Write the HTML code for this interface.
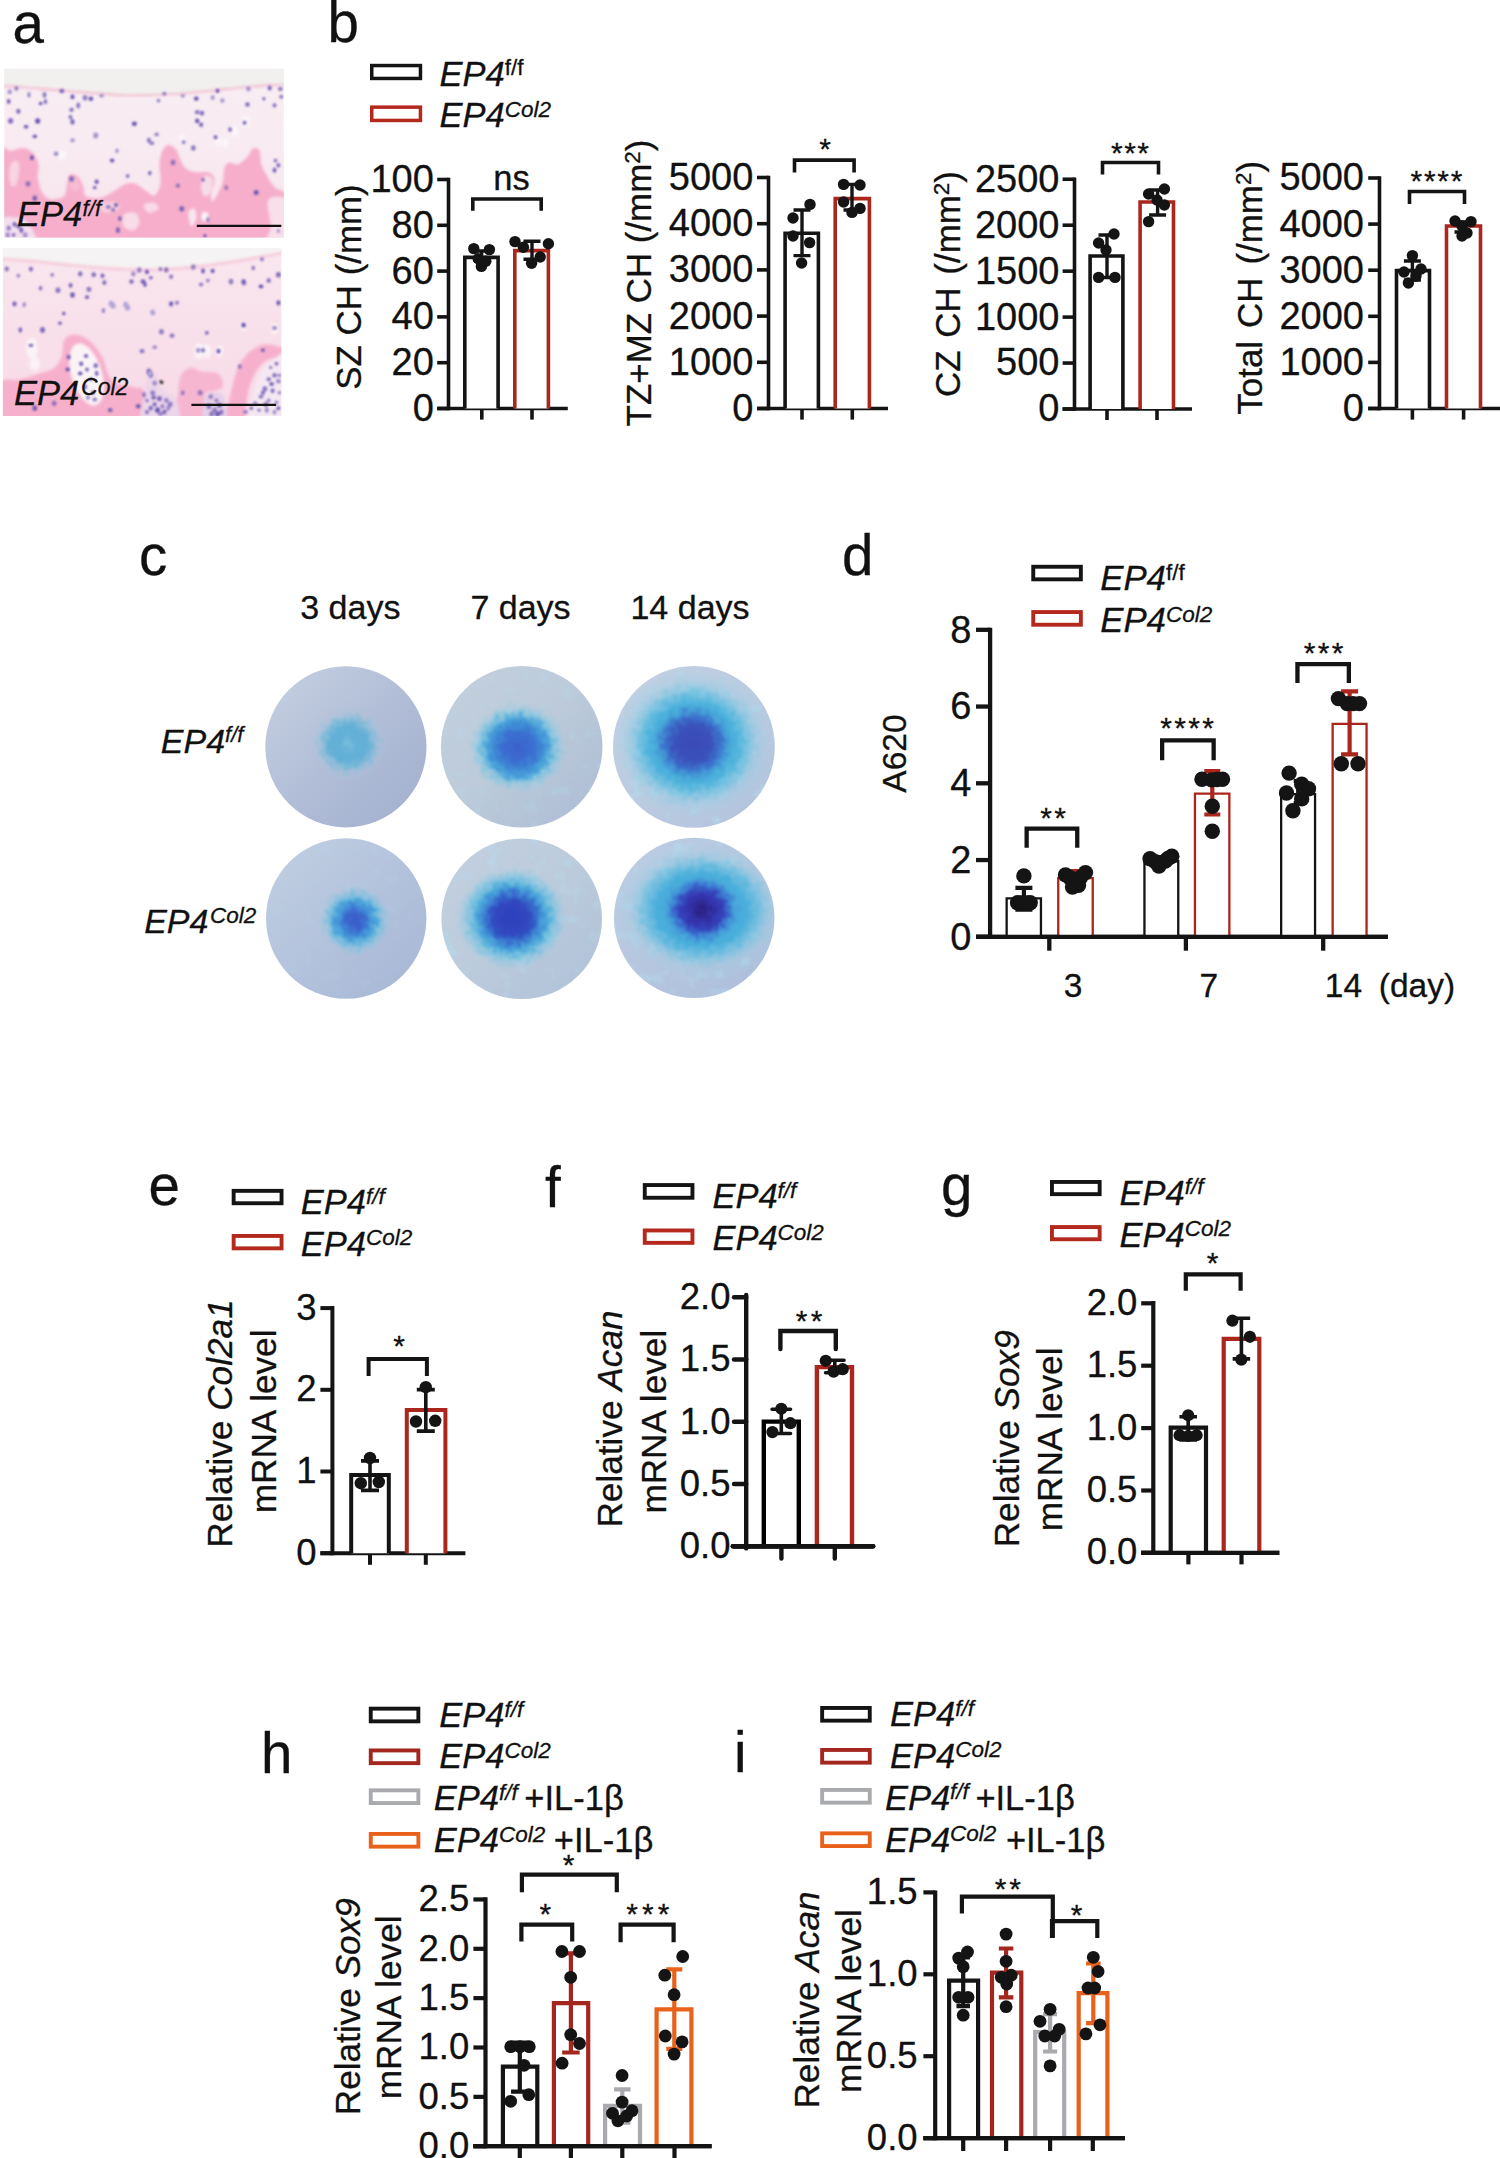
<!DOCTYPE html>
<html lang="en"><head><meta charset="utf-8"><title>Figure</title>
<style>
html,body{margin:0;padding:0;background:#fff}
svg{display:block}
text{font-family:"Liberation Sans",sans-serif;fill:#111;stroke:#111;stroke-width:0.3px;stroke-linejoin:round}
</style></head><body>
<svg width="1500" height="2158" viewBox="0 0 1500 2158">
<defs>
<filter id="hb" x="-5%" y="-5%" width="110%" height="110%"><feGaussianBlur stdDeviation="1.7"/></filter>
<filter id="hb2" x="-5%" y="-5%" width="110%" height="110%"><feGaussianBlur stdDeviation="0.95"/></filter>
<linearGradient id="cart1" x1="0" y1="0" x2="0" y2="1"><stop offset="0" stop-color="#f8eef3"/><stop offset="0.45" stop-color="#f8ebf1"/><stop offset="1" stop-color="#f8e3ec"/></linearGradient>
<linearGradient id="cart2" x1="0" y1="0" x2="0" y2="1"><stop offset="0" stop-color="#f9e7ef"/><stop offset="0.5" stop-color="#f8e0ea"/><stop offset="1" stop-color="#f8dbe7"/></linearGradient>
<clipPath id="clipA1"><rect x="4.3" y="68.7" width="279.5" height="168.8"/></clipPath>
<clipPath id="clipA2"><rect x="2.9" y="248.1" width="278.4" height="167.9"/></clipPath>
<filter id="mott" x="-20%" y="-20%" width="140%" height="140%"><feTurbulence type="fractalNoise" baseFrequency="0.16" numOctaves="3" seed="7" result="n"/><feDisplacementMap in="SourceGraphic" in2="n" scale="11" xChannelSelector="R" yChannelSelector="G"/><feGaussianBlur stdDeviation="0.8"/></filter>
<filter id="speck" x="0" y="0" width="100%" height="100%"><feTurbulence type="fractalNoise" baseFrequency="0.07" numOctaves="3" seed="11"/><feColorMatrix type="matrix" values="0 0 0 0 0.45  0 0 0 0 0.74  0 0 0 0 0.88  3.2 0 0 0 -1.75"/><feGaussianBlur stdDeviation="0.9"/></filter>
<filter id="dedge" x="-5%" y="-5%" width="110%" height="110%"><feGaussianBlur stdDeviation="0.6"/></filter>
<linearGradient id="dbg0" x1="0.1" y1="0.1" x2="0.9" y2="0.9"><stop offset="0" stop-color="#c2cde0"/><stop offset="0.5" stop-color="#b2bed7"/><stop offset="1" stop-color="#a4b1d0"/></linearGradient>
<radialGradient id="dhalo0" cx="0.5" cy="0.5" r="0.5"><stop offset="0" stop-color="#66b2d7" stop-opacity="1"/><stop offset="0.45" stop-color="#62afd6" stop-opacity="1"/><stop offset="0.62" stop-color="#74b9d9" stop-opacity="0.8"/><stop offset="0.82" stop-color="#9fc4dc" stop-opacity="0.3"/><stop offset="1" stop-color="#a9bcd6" stop-opacity="0"/></radialGradient>
<radialGradient id="dcore0" cx="0.5" cy="0.5" r="0.5"><stop offset="0" stop-color="#8ac8e0" stop-opacity="0.7"/><stop offset="1" stop-color="#7dc0dc" stop-opacity="0"/></radialGradient>
<clipPath id="dcl0"><circle cx="345.9" cy="746.8" r="80.6"/></clipPath>
<linearGradient id="dbg1" x1="0.1" y1="0.1" x2="0.9" y2="0.9"><stop offset="0" stop-color="#c3cfdd"/><stop offset="0.5" stop-color="#bccad9"/><stop offset="1" stop-color="#afbed6"/></linearGradient>
<radialGradient id="dhalo1" cx="0.5" cy="0.5" r="0.5"><stop offset="0" stop-color="#4aa8da" stop-opacity="1"/><stop offset="0.6" stop-color="#50b0dc" stop-opacity="0.95"/><stop offset="0.76" stop-color="#72c2e0" stop-opacity="0.7"/><stop offset="1" stop-color="#a6d0e2" stop-opacity="0"/></radialGradient>
<radialGradient id="dcore1" cx="0.5" cy="0.5" r="0.5"><stop offset="0" stop-color="#3b60ca" stop-opacity="1"/><stop offset="0.4" stop-color="#3a6fd0" stop-opacity="1"/><stop offset="0.65" stop-color="#3d87d5" stop-opacity="0.9"/><stop offset="0.82" stop-color="#4298d8" stop-opacity="0.5"/><stop offset="1" stop-color="#4aa8da" stop-opacity="0"/></radialGradient>
<clipPath id="dcl1"><circle cx="521.7" cy="746.8" r="80.8"/></clipPath>
<linearGradient id="dbg2" x1="0.1" y1="0.1" x2="0.9" y2="0.9"><stop offset="0" stop-color="#c3d0e2"/><stop offset="0.5" stop-color="#bccbe0"/><stop offset="1" stop-color="#b3c4dd"/></linearGradient>
<radialGradient id="dhalo2" cx="0.5" cy="0.5" r="0.5"><stop offset="0" stop-color="#48acda" stop-opacity="1"/><stop offset="0.54" stop-color="#4db2dc" stop-opacity="1"/><stop offset="0.66" stop-color="#68c0e0" stop-opacity="0.8"/><stop offset="0.82" stop-color="#94cee4" stop-opacity="0.35"/><stop offset="1" stop-color="#a9d3e6" stop-opacity="0"/></radialGradient>
<radialGradient id="dcore2" cx="0.5" cy="0.5" r="0.5"><stop offset="0" stop-color="#3a4ab6" stop-opacity="1"/><stop offset="0.45" stop-color="#3a52bb" stop-opacity="1"/><stop offset="0.66" stop-color="#3b72cc" stop-opacity="0.95"/><stop offset="0.82" stop-color="#3f8fd4" stop-opacity="0.55"/><stop offset="1" stop-color="#48acda" stop-opacity="0"/></radialGradient>
<clipPath id="dcl2"><circle cx="693.9" cy="746.8" r="80.9"/></clipPath>
<linearGradient id="dbg3" x1="0.1" y1="0.1" x2="0.9" y2="0.9"><stop offset="0" stop-color="#bfcde1"/><stop offset="0.5" stop-color="#b4c3dc"/><stop offset="1" stop-color="#a8b8d6"/></linearGradient>
<radialGradient id="dhalo3" cx="0.5" cy="0.5" r="0.5"><stop offset="0" stop-color="#48a4da" stop-opacity="1"/><stop offset="0.6" stop-color="#55b0dc" stop-opacity="0.95"/><stop offset="0.78" stop-color="#78c0df" stop-opacity="0.6"/><stop offset="1" stop-color="#a0c8e0" stop-opacity="0"/></radialGradient>
<radialGradient id="dcore3" cx="0.5" cy="0.5" r="0.5"><stop offset="0" stop-color="#3a5cc8" stop-opacity="1"/><stop offset="0.35" stop-color="#3b66cc" stop-opacity="1"/><stop offset="0.62" stop-color="#3e84d5" stop-opacity="0.9"/><stop offset="0.82" stop-color="#4296d8" stop-opacity="0.5"/><stop offset="1" stop-color="#48a4da" stop-opacity="0"/></radialGradient>
<clipPath id="dcl3"><circle cx="346.2" cy="918.5" r="80.2"/></clipPath>
<linearGradient id="dbg4" x1="0.1" y1="0.1" x2="0.9" y2="0.9"><stop offset="0" stop-color="#c2cfde"/><stop offset="0.5" stop-color="#bccbdc"/><stop offset="1" stop-color="#b2c2d9"/></linearGradient>
<radialGradient id="dhalo4" cx="0.5" cy="0.5" r="0.5"><stop offset="0" stop-color="#48a8da" stop-opacity="1"/><stop offset="0.62" stop-color="#4db0dc" stop-opacity="0.95"/><stop offset="0.78" stop-color="#70c1e0" stop-opacity="0.7"/><stop offset="1" stop-color="#a6d0e2" stop-opacity="0"/></radialGradient>
<radialGradient id="dcore4" cx="0.5" cy="0.5" r="0.5"><stop offset="0" stop-color="#2f40bc" stop-opacity="1"/><stop offset="0.45" stop-color="#3048c0" stop-opacity="1"/><stop offset="0.66" stop-color="#3872cf" stop-opacity="0.95"/><stop offset="0.82" stop-color="#3f90d5" stop-opacity="0.5"/><stop offset="1" stop-color="#48a8da" stop-opacity="0"/></radialGradient>
<clipPath id="dcl4"><circle cx="521.7" cy="918.8" r="80.3"/></clipPath>
<linearGradient id="dbg5" x1="0.1" y1="0.1" x2="0.9" y2="0.9"><stop offset="0" stop-color="#bdcce2"/><stop offset="0.5" stop-color="#b6c6de"/><stop offset="1" stop-color="#adbfdb"/></linearGradient>
<radialGradient id="dhalo5" cx="0.5" cy="0.5" r="0.5"><stop offset="0" stop-color="#46a8da" stop-opacity="1"/><stop offset="0.5" stop-color="#4aaedb" stop-opacity="1"/><stop offset="0.64" stop-color="#66bee0" stop-opacity="0.8"/><stop offset="0.8" stop-color="#98cfe4" stop-opacity="0.3"/><stop offset="1" stop-color="#a9d3e6" stop-opacity="0"/></radialGradient>
<radialGradient id="dcore5" cx="0.5" cy="0.5" r="0.5"><stop offset="0" stop-color="#2a1f7e" stop-opacity="1"/><stop offset="0.16" stop-color="#2e2892" stop-opacity="1"/><stop offset="0.38" stop-color="#3434ae" stop-opacity="1"/><stop offset="0.55" stop-color="#3645bc" stop-opacity="1"/><stop offset="0.7" stop-color="#3a70d0" stop-opacity="0.9"/><stop offset="0.85" stop-color="#3f90d5" stop-opacity="0.5"/><stop offset="1" stop-color="#46a8da" stop-opacity="0"/></radialGradient>
<clipPath id="dcl5"><circle cx="694.2" cy="917.9" r="80.2"/></clipPath>
</defs>
<rect width="1500" height="2158" fill="#fff"/>
<text x="12.5" y="42.5" font-size="56.5">a</text>
<text x="327.5" y="41.5" font-size="56.5">b</text>
<text x="139" y="574.5" font-size="56.5">c</text>
<text x="842" y="574.5" font-size="56.5">d</text>
<text x="148.5" y="1204.8" font-size="56.5">e</text>
<text x="545" y="1206.5" font-size="56.5">f</text>
<text x="941" y="1204.5" font-size="56.5">g</text>
<text x="261" y="1773" font-size="56.5">h</text>
<text x="734" y="1771.5" font-size="56.5">i</text>
<g clip-path="url(#clipA1)"><rect x="0" y="64" width="290" height="178" fill="url(#cart1)"/><g filter="url(#hb)">
<path d="M0 63.87 L290 63.87 L290 84.75 L270.67 85.13 L241.67 87.45 L212.67 90.55 L183.67 93.25 L154.67 94.8 L125.67 95.19 L96.67 93.25 L67.67 90.93 L38.67 88.61 L19.33 87.07 L0 85.91Z" fill="#f1f0ef"/>
<path d="M0 85.91C3.22 86.1 12.89 86.62 19.33 87.07C25.78 87.52 30.61 87.97 38.67 88.61C46.72 89.26 58 90.16 67.67 90.93C77.33 91.71 87 92.54 96.67 93.25C106.33 93.96 116 94.93 125.67 95.19C135.33 95.44 145 95.12 154.67 94.8C164.33 94.48 174 93.96 183.67 93.25C193.33 92.54 203 91.51 212.67 90.55C222.33 89.58 232 88.36 241.67 87.45C251.33 86.55 262.61 85.58 270.67 85.13C278.72 84.68 286.78 84.81 290 84.75" fill="none" stroke="#f1a9c4" stroke-width="1.6"/>
<path d="M0 155.7C1.93 139.91 7.73 152.16 11.6 150.87C15.47 149.58 19.66 147.64 23.2 147.97C26.74 148.29 30.29 150.06 32.87 152.8C35.44 155.54 37.86 160.53 38.67 164.4C39.47 168.27 37.22 171.49 37.7 176C38.18 180.51 39.47 187.6 41.57 191.47C43.66 195.33 46.56 198.39 50.27 199.2C53.97 200.01 61.06 198.56 63.8 196.3C66.54 194.04 65.73 189.21 66.7 185.67C67.67 182.12 67.83 176.64 69.6 175.03C71.37 173.42 75.08 174.23 77.33 176C79.59 177.77 81.68 182.28 83.13 185.67C84.58 189.05 83.13 194.3 86.03 196.3C88.93 198.3 95.54 198.72 100.53 197.65C105.53 196.59 111.81 192.18 116 189.92C120.19 187.66 122.44 185.15 125.67 184.12C128.89 183.09 131.79 182.51 135.33 183.73C138.88 184.96 143.71 189.53 146.93 191.47C150.16 193.4 152.41 196.62 154.67 195.33C156.92 194.04 159.66 188.89 160.47 183.73C161.27 178.58 159.18 169.88 159.5 164.4C159.82 158.92 160.95 154.09 162.4 150.87C163.85 147.64 165.94 145.32 168.2 145.07C170.46 144.81 173.84 146.74 175.93 149.32C178.03 151.9 179.16 157.38 180.77 160.53C182.38 163.69 183.18 166.33 185.6 168.27C188.02 170.2 191.4 171.42 195.27 172.13C199.13 172.84 205.58 171.23 208.8 172.52C212.02 173.81 214.21 176.39 214.6 179.87C214.99 183.35 211.38 189.86 211.12 193.4C210.86 196.94 211.18 202.74 213.05 201.13C214.92 199.52 220.46 189.21 222.33 183.73C224.2 178.26 223.14 171.81 224.27 168.27C225.39 164.72 226.84 163.11 229.1 162.47C231.36 161.82 234.74 165.37 237.8 164.4C240.86 163.43 244.89 159.41 247.47 156.67C250.04 153.93 251.27 148.93 253.27 147.97C255.26 147 258.1 148.13 259.45 150.87C260.81 153.61 260.1 160.21 261.39 164.4C262.68 168.59 264.93 172.13 267.19 176C269.44 179.87 271.12 183.73 274.92 187.6C278.72 191.47 287.49 189.53 290 199.2C292.51 208.87 338.33 237.87 290 245.6C241.67 253.33 48.33 260.58 0 245.6C-48.33 230.62 -1.93 171.49 0 155.7Z" fill="#f6aecb"/>
<path d="M10.63 164.4C11.83 161.82 14.98 159.89 16.43 160.53C17.88 161.18 19.33 164.4 19.33 168.27C19.33 172.13 17.72 180.83 16.43 183.73C15.14 186.63 12.79 186.96 11.6 185.67C10.41 184.38 9.44 179.54 9.28 176C9.12 172.46 9.44 166.98 10.63 164.4Z" fill="#f8d5e2"/>
<path d="M123.73 214.67C125.67 212.41 132.76 211.44 135.33 212.73C137.91 214.02 139.52 219.5 139.2 222.4C138.88 225.3 135.98 229.49 133.4 230.13C130.82 230.78 125.34 228.84 123.73 226.27C122.12 223.69 121.8 216.92 123.73 214.67Z" fill="#f8dde8"/>
<path d="M188.5 212.73C188.98 209.83 193.01 207.9 194.3 208.87C195.59 209.83 196.72 215.63 196.23 218.53C195.75 221.43 192.69 227.23 191.4 226.27C190.11 225.3 188.02 215.63 188.5 212.73Z" fill="#f9e6ee"/>
<path d="M144.03 205C145 203.39 152.25 202.42 154.67 203.07C157.08 203.71 159.5 207.26 158.53 208.87C157.57 210.48 151.28 213.38 148.87 212.73C146.45 212.09 143.07 206.61 144.03 205Z" fill="#f8dbe6"/>
<path d="M268.73 199.2C271.96 195.33 286.46 195.33 290 203.07C293.54 210.8 293.87 238.51 290 245.6C286.13 252.69 270.02 248.82 266.8 245.6C263.58 242.38 270.34 234 270.67 226.27C270.99 218.53 265.51 203.07 268.73 199.2Z" fill="#f7e0ea"/>
<path d="M0 220.47C2.58 215.79 10.63 216.92 15.47 217.57C20.3 218.21 25.78 219.66 29 224.33C32.22 229.01 39.63 242.06 34.8 245.6C29.97 249.14 5.8 249.79 0 245.6C-5.8 241.41 -2.58 225.14 0 220.47Z" fill="#f3dfee"/>
<path d="M100.53 204.03C102.47 202.26 112.94 201.29 116 202.1C119.06 202.91 120.83 207.09 118.9 208.87C116.97 210.64 107.46 213.54 104.4 212.73C101.34 211.93 98.6 205.81 100.53 204.03Z" fill="#f6cfdf"/>
<path d="M69.6 177.93C70.66 176.81 74.59 177.13 76.37 178.9C78.14 180.67 80.56 186.47 80.23 188.57C79.91 190.66 76.14 191.95 74.43 191.47C72.73 190.98 70.79 187.92 69.99 185.67C69.18 183.41 68.54 179.06 69.6 177.93Z" fill="#f6bdd2"/>
<path d="M204.93 176C206.87 175.03 211.86 176.97 212.67 179.87C213.47 182.77 211.22 190.82 209.77 193.4C208.32 195.98 205.42 196.62 203.97 195.33C202.52 194.04 200.91 188.89 201.07 185.67C201.23 182.44 203 176.97 204.93 176Z" fill="#f8dde8"/>
<ellipse cx="61.87" cy="154.73" rx="4.25" ry="5.03" fill="#fbf6f8"/>
<ellipse cx="234.9" cy="131.53" rx="3.87" ry="5.8" fill="#fbf6f8"/>
<ellipse cx="245.53" cy="121.87" rx="4.25" ry="5.41" fill="#fbf6f8"/>
<ellipse cx="182.7" cy="139.27" rx="3.09" ry="5.41" fill="#fbf6f8"/>
<ellipse cx="218.47" cy="141.2" rx="3.48" ry="5.8" fill="#fbf6f8"/>
<ellipse cx="225.23" cy="143.13" rx="2.71" ry="5.03" fill="#fbf6f8"/>
<ellipse cx="73.47" cy="118" rx="2.71" ry="3.87" fill="#fbf6f8"/>
<ellipse cx="204.93" cy="216.6" rx="3.48" ry="4.64" fill="#fbf6f8"/>
</g>
<g filter="url(#hb2)" fill="#6653b0"><ellipse cx="16.43" cy="88.61" rx="1.91" ry="2.35" opacity="0.71"/><ellipse cx="9.67" cy="91.9" rx="2.24" ry="2.45" opacity="0.58"/><ellipse cx="29" cy="94.8" rx="1.71" ry="2.7" opacity="0.66"/><ellipse cx="44.47" cy="94.8" rx="1.91" ry="2.89" opacity="0.75"/><ellipse cx="61.87" cy="90.93" rx="2.45" ry="2.27" opacity="0.82"/><ellipse cx="8.7" cy="101.57" rx="1.84" ry="2.46" opacity="0.92"/><ellipse cx="18.37" cy="111.23" rx="2.17" ry="2.59" opacity="0.84"/><ellipse cx="45.43" cy="101.57" rx="1.76" ry="2.61" opacity="0.8"/><ellipse cx="40.6" cy="103.5" rx="1.97" ry="1.74" opacity="0.92"/><ellipse cx="72.5" cy="96.73" rx="2.13" ry="2.56" opacity="0.93"/><ellipse cx="85.07" cy="97.7" rx="2.34" ry="2.81" opacity="0.72"/><ellipse cx="90.87" cy="98.67" rx="2.42" ry="2.23" opacity="0.95"/><ellipse cx="101.5" cy="95.77" rx="2.49" ry="1.82" opacity="0.61"/><ellipse cx="78.3" cy="105.43" rx="1.9" ry="2.86" opacity="0.74"/><ellipse cx="71.53" cy="109.88" rx="2.26" ry="2.06" opacity="0.77"/><ellipse cx="70.57" cy="117.03" rx="2.05" ry="2.12" opacity="0.8"/><ellipse cx="72.5" cy="121.87" rx="2.23" ry="2.79" opacity="0.84"/><ellipse cx="37.7" cy="120.9" rx="2.54" ry="2.73" opacity="0.98"/><ellipse cx="26.1" cy="126.7" rx="2.3" ry="1.9" opacity="0.92"/><ellipse cx="10.63" cy="120.9" rx="2.57" ry="2.79" opacity="0.79"/><ellipse cx="34.8" cy="136.37" rx="2.34" ry="1.95" opacity="0.91"/><ellipse cx="72.5" cy="140.23" rx="2.22" ry="2.04" opacity="0.58"/><ellipse cx="95.7" cy="135.4" rx="2.47" ry="2.89" opacity="0.59"/><ellipse cx="56.07" cy="153.77" rx="2.42" ry="2.19" opacity="0.61"/><ellipse cx="31.9" cy="157.63" rx="1.96" ry="2.62" opacity="0.93"/><ellipse cx="116.97" cy="150.87" rx="1.74" ry="2.44" opacity="0.57"/><ellipse cx="112.13" cy="160.53" rx="2.35" ry="2.1" opacity="0.93"/><ellipse cx="134.37" cy="123.8" rx="2.58" ry="2.31" opacity="0.98"/><ellipse cx="164.33" cy="93.83" rx="1.98" ry="1.79" opacity="0.81"/><ellipse cx="158.53" cy="100.6" rx="1.73" ry="1.94" opacity="0.73"/><ellipse cx="182.7" cy="95.77" rx="2.25" ry="1.89" opacity="0.57"/><ellipse cx="196.23" cy="98.67" rx="2.48" ry="2.08" opacity="0.96"/><ellipse cx="197.2" cy="112.2" rx="2.51" ry="2.15" opacity="0.75"/><ellipse cx="202.03" cy="113.17" rx="2.17" ry="2.47" opacity="0.81"/><ellipse cx="197.2" cy="120.9" rx="2.2" ry="2.44" opacity="0.95"/><ellipse cx="201.07" cy="124.77" rx="2.16" ry="2.22" opacity="0.86"/><ellipse cx="217.5" cy="90.93" rx="1.91" ry="2.06" opacity="0.97"/><ellipse cx="222.33" cy="100.6" rx="2.17" ry="2.36" opacity="0.55"/><ellipse cx="212.67" cy="97.7" rx="2.07" ry="2.4" opacity="0.56"/><ellipse cx="248.43" cy="89" rx="2.25" ry="2.46" opacity="0.58"/><ellipse cx="247.47" cy="104.47" rx="2.26" ry="2.26" opacity="0.84"/><ellipse cx="269.7" cy="88.03" rx="2.02" ry="2.55" opacity="0.87"/><ellipse cx="263.9" cy="98.67" rx="1.72" ry="1.77" opacity="0.84"/><ellipse cx="280.33" cy="89" rx="2.57" ry="2" opacity="0.75"/><ellipse cx="281.3" cy="96.73" rx="2.23" ry="2.08" opacity="0.71"/><ellipse cx="274.53" cy="105.43" rx="1.98" ry="2.14" opacity="0.81"/><ellipse cx="244.57" cy="122.83" rx="1.97" ry="2.15" opacity="0.88"/><ellipse cx="230.07" cy="129.6" rx="1.72" ry="2.38" opacity="0.87"/><ellipse cx="215.57" cy="137.33" rx="1.98" ry="1.97" opacity="0.9"/><ellipse cx="183.67" cy="142.17" rx="1.91" ry="1.92" opacity="0.74"/><ellipse cx="156.6" cy="134.43" rx="2.33" ry="1.82" opacity="0.69"/><ellipse cx="148.87" cy="140.23" rx="2" ry="2.7" opacity="0.74"/><ellipse cx="151.77" cy="143.13" rx="2.47" ry="1.9" opacity="0.69"/><ellipse cx="193.33" cy="147.97" rx="2.29" ry="2.76" opacity="0.74"/><ellipse cx="275.5" cy="160.53" rx="1.9" ry="1.85" opacity="0.78"/><ellipse cx="274.53" cy="170.2" rx="1.87" ry="2.67" opacity="0.91"/><ellipse cx="278.4" cy="165.37" rx="1.87" ry="2.03" opacity="0.9"/><ellipse cx="173.03" cy="162.47" rx="2.28" ry="2.67" opacity="0.7"/><ellipse cx="149.83" cy="173.1" rx="1.82" ry="2.05" opacity="0.89"/><ellipse cx="127.6" cy="176" rx="1.94" ry="2.12" opacity="0.73"/><ellipse cx="96.67" cy="181.8" rx="2.08" ry="2.19" opacity="0.95"/><ellipse cx="94.73" cy="187.6" rx="1.84" ry="1.71" opacity="0.96"/><ellipse cx="71.53" cy="178.9" rx="2.49" ry="2.88" opacity="0.74"/><ellipse cx="28.03" cy="183.73" rx="2.56" ry="2.81" opacity="0.65"/><ellipse cx="34.8" cy="198.23" rx="2.37" ry="2.7" opacity="0.84"/><ellipse cx="177.87" cy="185.67" rx="2.17" ry="2.05" opacity="0.7"/><ellipse cx="203" cy="179.87" rx="1.9" ry="1.78" opacity="0.8"/><ellipse cx="226.2" cy="187.6" rx="1.96" ry="2.67" opacity="0.57"/><ellipse cx="256.17" cy="192.43" rx="2.51" ry="2.53" opacity="0.95"/><ellipse cx="181.73" cy="208.87" rx="2.51" ry="2.78" opacity="0.8"/><ellipse cx="207.83" cy="219.5" rx="1.71" ry="2.59" opacity="0.62"/><ellipse cx="119.87" cy="218.53" rx="1.97" ry="2.5" opacity="0.78"/><ellipse cx="117.93" cy="230.13" rx="2.07" ry="2.83" opacity="0.81"/><ellipse cx="116" cy="205" rx="2.01" ry="2" opacity="0.92"/><ellipse cx="8.7" cy="228.2" rx="2.13" ry="2.64" opacity="0.7"/><ellipse cx="14.5" cy="224.33" rx="1.88" ry="2.34" opacity="0.9"/><ellipse cx="21.27" cy="230.13" rx="1.85" ry="2.65" opacity="0.95"/><ellipse cx="25.13" cy="234.97" rx="2.43" ry="2.69" opacity="0.55"/><ellipse cx="7.73" cy="234.97" rx="2.27" ry="2.74" opacity="0.57"/><ellipse cx="13.53" cy="234.97" rx="1.94" ry="2.02" opacity="0.78"/><ellipse cx="18.37" cy="226.27" rx="2.08" ry="2.27" opacity="0.88"/><ellipse cx="278.4" cy="231.1" rx="1.7" ry="1.77" opacity="0.6"/><ellipse cx="204.93" cy="235.93" rx="1.81" ry="1.78" opacity="0.97"/><ellipse cx="108.27" cy="206.93" rx="2.47" ry="1.8" opacity="0.77"/><ellipse cx="113.1" cy="209.83" rx="1.98" ry="2.08" opacity="0.7"/></g>
</g>
<line x1="196.8" y1="225.9" x2="281.3" y2="225.9" stroke="#111" stroke-width="2.2"/>
<text x="16.9" y="225.9" font-size="34.5" font-style="italic">EP4<tspan dy="-10.3" dx="0.5" font-size="22.3">f/f</tspan></text>
<g clip-path="url(#clipA2)"><rect x="0" y="244" width="290" height="178" fill="url(#cart2)"/><g filter="url(#hb)">
<path d="M0 243.87 L290 243.87 L290 251.6 L270.67 255.08 L241.67 260.3 L212.67 264.75 L183.67 268.03 L154.67 269.58 L125.67 269.39 L96.67 267.45 L67.67 264.75 L38.67 261.65 L19.33 260.11 L0 258.95Z" fill="#f5f3f3"/>
<path d="M0 258.95C3.22 259.14 12.89 259.66 19.33 260.11C25.78 260.56 30.61 260.88 38.67 261.65C46.72 262.43 58 263.78 67.67 264.75C77.33 265.71 87 266.68 96.67 267.45C106.33 268.23 116 269.03 125.67 269.39C135.33 269.74 145 269.81 154.67 269.58C164.33 269.35 174 268.84 183.67 268.03C193.33 267.23 203 266.04 212.67 264.75C222.33 263.46 232 261.91 241.67 260.3C251.33 258.69 262.61 256.53 270.67 255.08C278.72 253.63 286.78 252.18 290 251.6" fill="none" stroke="#f6c3d6" stroke-width="2.4"/>
<path d="M0 384.03C3.22 376.36 12.89 381.29 19.33 379.59C25.78 377.88 32.87 375.72 38.67 373.79C44.47 371.85 50.27 370.95 54.13 367.99C58 365.02 60.26 360.51 61.87 356C63.48 351.49 62.19 344.46 63.8 340.92C65.41 337.38 68.31 335.44 71.53 334.73C74.76 334.02 79.43 334.99 83.13 336.67C86.84 338.34 90.48 341.18 93.77 344.79C97.05 348.4 100.37 353.23 102.85 358.32C105.33 363.41 106.4 371.14 108.65 375.33C110.91 379.52 111.94 381.46 116.39 383.45C120.83 385.45 130.73 385.93 135.33 387.32C139.94 388.71 142.1 385.39 144.03 391.77C145.97 398.15 170.94 419.96 146.93 425.6C122.93 431.24 24.49 432.53 0 425.6C-24.49 418.67 -3.22 391.7 0 384.03Z" fill="#f7b0cc"/>
<ellipse cx="86.61" cy="374.37" rx="15.08" ry="31.9" transform="rotate(-17 86.61 374.37)" fill="#fbf4f7"/>
<path d="M176.9 425.6C172.94 419.48 177.45 397.5 178.25 388.87C179.06 380.23 179.54 377.33 181.73 373.79C183.92 370.24 188.18 367.99 191.4 367.6C194.62 367.21 196.56 370.44 201.07 371.47C205.58 372.5 214.86 371.21 218.47 373.79C222.08 376.36 223.69 384.03 222.72 386.93C221.75 389.83 215.63 389.83 212.67 391.19C209.7 392.54 206.71 389.32 204.93 395.05C203.16 400.79 206.71 420.51 202.03 425.6C197.36 430.69 180.86 431.72 176.9 425.6Z" fill="#f7b6d0"/>
<path d="M225.23 425.6C223.56 419.32 229.58 398.15 232 387.9C234.42 377.65 236.51 370.34 239.73 364.12C242.96 357.9 247.14 353.87 251.33 350.59C255.52 347.3 260.19 345.04 264.87 344.4C269.54 343.76 275.18 345.59 279.37 346.72C283.56 347.85 288.23 349.62 290 351.17C291.77 352.71 293.54 354.61 290 356C286.46 357.39 274.37 356.9 268.73 359.48C263.09 362.06 259.55 366.18 256.17 371.47C252.78 376.75 250.79 382.16 248.43 391.19C246.08 400.21 245.92 419.86 242.05 425.6C238.19 431.34 226.91 431.88 225.23 425.6Z" fill="#f7b0cc"/>
<path d="M249.4 425.6C243.28 420.44 251.49 403.37 253.27 394.67C255.04 385.97 257.13 378.88 260.03 373.4C262.93 367.92 265.67 364.7 270.67 361.8C275.66 358.9 286.78 345.37 290 356C293.22 366.63 296.77 414 290 425.6C283.23 437.2 255.52 430.76 249.4 425.6Z" fill="#f6e8f2"/>
<path d="M143.07 425.6C137.49 420.44 143.07 403.37 144.03 394.67C145 385.97 147.09 377.27 148.87 373.4C150.64 369.53 152.73 369.21 154.67 371.47C156.6 373.72 157.89 383.07 160.47 386.93C163.04 390.8 167.39 392.41 170.13 394.67C172.87 396.92 175.68 395.31 176.9 400.47C178.12 405.62 183.12 421.41 177.48 425.6C171.84 429.79 148.64 430.76 143.07 425.6Z" fill="#ecd6ea"/>
<path d="M203 425.6C199.68 421.09 203.71 404.01 205.32 398.53C206.93 393.06 209.83 393.38 212.67 392.73C215.5 392.09 220.08 392.41 222.33 394.67C224.59 396.92 225.72 401.11 226.2 406.27C226.68 411.42 229.1 422.38 225.23 425.6C221.37 428.82 206.32 430.11 203 425.6Z" fill="#e6cfe8"/>
<ellipse cx="31.9" cy="348.27" rx="5.8" ry="10.63" fill="#fbf3f7"/>
<ellipse cx="34.8" cy="363.73" rx="5.03" ry="6.96" fill="#fbf3f7"/>
<ellipse cx="199.13" cy="351.17" rx="5.41" ry="7.73" fill="#fbf3f7"/>
<ellipse cx="206.87" cy="351.17" rx="4.25" ry="6.96" fill="#fbf3f7"/>
<ellipse cx="219.43" cy="351.17" rx="3.87" ry="5.8" fill="#fbf3f7"/>
<ellipse cx="274.53" cy="328.93" rx="3.48" ry="5.8" fill="#fbf3f7"/>
<ellipse cx="243.6" cy="326.03" rx="3.09" ry="5.03" fill="#fbf3f7"/>
</g>
<g filter="url(#hb2)" fill="#6653b0"><ellipse cx="6.77" cy="269" rx="2.28" ry="2.4" opacity="0.74"/><ellipse cx="18.37" cy="275.77" rx="1.87" ry="2.09" opacity="0.65"/><ellipse cx="30.93" cy="269" rx="2.2" ry="2.56" opacity="0.75"/><ellipse cx="52.2" cy="274.8" rx="1.77" ry="1.91" opacity="0.75"/><ellipse cx="80.23" cy="273.83" rx="2.24" ry="2.64" opacity="0.75"/><ellipse cx="93.77" cy="274.8" rx="2.42" ry="2.45" opacity="0.77"/><ellipse cx="102.47" cy="275.77" rx="2.04" ry="2.3" opacity="0.88"/><ellipse cx="104.4" cy="282.53" rx="2.08" ry="2.53" opacity="0.78"/><ellipse cx="70.57" cy="285.43" rx="1.92" ry="2.34" opacity="0.88"/><ellipse cx="40.6" cy="288.33" rx="1.76" ry="2.21" opacity="0.77"/><ellipse cx="58" cy="290.27" rx="2.49" ry="2.82" opacity="0.75"/><ellipse cx="88.93" cy="289.3" rx="2.51" ry="2.65" opacity="0.7"/><ellipse cx="87" cy="297.03" rx="2.12" ry="1.85" opacity="0.93"/><ellipse cx="72.5" cy="295.1" rx="2.3" ry="2.76" opacity="0.92"/><ellipse cx="14.5" cy="303.8" rx="2.3" ry="2.58" opacity="0.83"/><ellipse cx="24.17" cy="304.77" rx="1.79" ry="2.41" opacity="0.6"/><ellipse cx="103.43" cy="310.57" rx="1.83" ry="2.63" opacity="0.62"/><ellipse cx="63.8" cy="313.47" rx="1.78" ry="1.82" opacity="0.95"/><ellipse cx="59.93" cy="323.13" rx="1.86" ry="1.73" opacity="0.94"/><ellipse cx="20.3" cy="329.9" rx="1.81" ry="2.71" opacity="0.87"/><ellipse cx="42.53" cy="329.9" rx="2.45" ry="2.84" opacity="0.83"/><ellipse cx="30.93" cy="345.37" rx="2.42" ry="1.74" opacity="0.91"/><ellipse cx="133.4" cy="273.83" rx="2.16" ry="2.56" opacity="0.64"/><ellipse cx="139.2" cy="269.97" rx="2.37" ry="2.82" opacity="0.62"/><ellipse cx="146.93" cy="271.9" rx="1.99" ry="2.38" opacity="0.93"/><ellipse cx="160.47" cy="269" rx="1.92" ry="1.92" opacity="0.7"/><ellipse cx="166.27" cy="269.97" rx="2.25" ry="2.6" opacity="0.76"/><ellipse cx="171.1" cy="276.73" rx="2.03" ry="2.18" opacity="0.74"/><ellipse cx="150.8" cy="277.7" rx="2.08" ry="1.8" opacity="0.8"/><ellipse cx="143.07" cy="281.57" rx="2.58" ry="2.2" opacity="0.9"/><ellipse cx="145" cy="284.47" rx="1.84" ry="2.53" opacity="0.9"/><ellipse cx="131.47" cy="281.57" rx="2.31" ry="2.32" opacity="0.79"/><ellipse cx="193.33" cy="267.07" rx="2.28" ry="2.78" opacity="0.66"/><ellipse cx="203" cy="270.93" rx="1.79" ry="2.6" opacity="0.97"/><ellipse cx="212.67" cy="270.93" rx="2.17" ry="2.23" opacity="0.89"/><ellipse cx="207.83" cy="280.6" rx="1.87" ry="2.02" opacity="0.68"/><ellipse cx="201.07" cy="284.47" rx="2.23" ry="2.08" opacity="0.69"/><ellipse cx="231.03" cy="281.57" rx="2.32" ry="2.84" opacity="0.72"/><ellipse cx="243.6" cy="281.57" rx="2.33" ry="2.2" opacity="0.94"/><ellipse cx="243.99" cy="283.5" rx="2.23" ry="2.02" opacity="0.69"/><ellipse cx="253.27" cy="268.03" rx="1.72" ry="2.28" opacity="0.75"/><ellipse cx="261.97" cy="259.33" rx="1.86" ry="2.13" opacity="0.73"/><ellipse cx="261" cy="286.4" rx="2.4" ry="1.87" opacity="1"/><ellipse cx="268.73" cy="280.6" rx="2.13" ry="2.42" opacity="0.79"/><ellipse cx="278.4" cy="274.8" rx="2.45" ry="2.69" opacity="0.82"/><ellipse cx="278.4" cy="302.83" rx="2.13" ry="2.56" opacity="0.94"/><ellipse cx="171.1" cy="303.8" rx="2.06" ry="2.58" opacity="0.98"/><ellipse cx="176.9" cy="302.83" rx="2.12" ry="1.98" opacity="0.69"/><ellipse cx="243.6" cy="325.07" rx="2.35" ry="2.51" opacity="0.98"/><ellipse cx="274.53" cy="327.97" rx="2.47" ry="1.99" opacity="0.68"/><ellipse cx="206.87" cy="332.8" rx="1.93" ry="1.92" opacity="0.88"/><ellipse cx="161.43" cy="331.83" rx="2.47" ry="2.78" opacity="0.7"/><ellipse cx="172.07" cy="335.7" rx="2.48" ry="2.08" opacity="0.77"/><ellipse cx="154.67" cy="347.3" rx="2.36" ry="1.8" opacity="0.64"/><ellipse cx="142.1" cy="351.17" rx="2.45" ry="2.05" opacity="0.74"/><ellipse cx="198.17" cy="350.2" rx="2.22" ry="2.51" opacity="0.6"/><ellipse cx="203" cy="350.2" rx="2" ry="2.22" opacity="0.79"/><ellipse cx="218.47" cy="351.17" rx="1.89" ry="2.4" opacity="0.98"/><ellipse cx="239.73" cy="366.63" rx="2.05" ry="2.35" opacity="0.65"/><ellipse cx="182.7" cy="392.73" rx="1.95" ry="2.5" opacity="0.65"/><ellipse cx="200.1" cy="392.73" rx="2.5" ry="2.79" opacity="0.64"/><ellipse cx="138.23" cy="406.27" rx="2.55" ry="2.15" opacity="0.91"/><ellipse cx="110.2" cy="410.13" rx="2.38" ry="2.05" opacity="0.87"/><ellipse cx="54.13" cy="403.37" rx="2.29" ry="2.67" opacity="0.71"/><ellipse cx="34.8" cy="408.2" rx="2.38" ry="2.85" opacity="0.87"/><ellipse cx="262.93" cy="350.2" rx="2.18" ry="1.84" opacity="0.8"/><ellipse cx="68.63" cy="356.97" rx="2.02" ry="2.56" opacity="0.87"/><ellipse cx="86.03" cy="356" rx="2.21" ry="1.92" opacity="0.86"/><ellipse cx="67.67" cy="369.53" rx="2.27" ry="1.91" opacity="0.96"/><ellipse cx="80.23" cy="373.4" rx="2.29" ry="1.85" opacity="0.97"/><ellipse cx="87" cy="369.53" rx="1.83" ry="2.1" opacity="0.89"/><ellipse cx="95.7" cy="365.67" rx="2.24" ry="2.37" opacity="0.86"/><ellipse cx="90.87" cy="379.2" rx="2.11" ry="2.07" opacity="0.67"/><ellipse cx="96.67" cy="373.4" rx="1.76" ry="2.56" opacity="0.9"/><ellipse cx="85.07" cy="386.93" rx="2.19" ry="2.59" opacity="0.74"/><ellipse cx="92.8" cy="392.73" rx="1.94" ry="2.16" opacity="0.95"/><ellipse cx="87.97" cy="397.57" rx="1.74" ry="2.31" opacity="0.7"/><ellipse cx="94.73" cy="399.5" rx="2.39" ry="2.12" opacity="0.73"/><ellipse cx="81.2" cy="363.73" rx="2.06" ry="2.35" opacity="0.91"/><ellipse cx="144.03" cy="394.67" rx="2.02" ry="2.72" opacity="0.64"/><ellipse cx="146.93" cy="400.47" rx="1.94" ry="1.82" opacity="0.65"/><ellipse cx="152.73" cy="392.73" rx="2.4" ry="2.57" opacity="0.67"/><ellipse cx="154.67" cy="404.33" rx="1.87" ry="2.2" opacity="0.9"/><ellipse cx="159.5" cy="398.53" rx="2.43" ry="2.6" opacity="0.84"/><ellipse cx="162.4" cy="406.27" rx="1.83" ry="2.18" opacity="0.68"/><ellipse cx="166.27" cy="400.47" rx="2.17" ry="2.38" opacity="0.68"/><ellipse cx="168.2" cy="408.2" rx="1.93" ry="2.64" opacity="0.61"/><ellipse cx="157.57" cy="410.13" rx="2.42" ry="2.77" opacity="0.98"/><ellipse cx="150.8" cy="408.2" rx="2.04" ry="2.36" opacity="0.83"/><ellipse cx="148.87" cy="371.47" rx="2.27" ry="2.87" opacity="0.87"/><ellipse cx="150.8" cy="375.33" rx="1.97" ry="2.73" opacity="0.79"/><ellipse cx="154.67" cy="383.07" rx="2.24" ry="2.57" opacity="0.6"/><ellipse cx="164.33" cy="412.07" rx="2.39" ry="2.49" opacity="0.8"/><ellipse cx="146.93" cy="412.07" rx="2.17" ry="2.25" opacity="0.68"/><ellipse cx="160.47" cy="414" rx="2.18" ry="1.74" opacity="0.8"/><ellipse cx="153.7" cy="397.57" rx="2.28" ry="2.23" opacity="0.83"/><ellipse cx="170.13" cy="404.33" rx="2.56" ry="2.77" opacity="0.65"/><ellipse cx="210.73" cy="396.6" rx="2.41" ry="2.45" opacity="0.62"/><ellipse cx="216.53" cy="400.47" rx="2.02" ry="1.98" opacity="0.63"/><ellipse cx="208.8" cy="406.27" rx="2.18" ry="2.82" opacity="0.73"/><ellipse cx="214.6" cy="410.13" rx="2.48" ry="2.53" opacity="0.65"/><ellipse cx="219.43" cy="405.3" rx="2.47" ry="2.42" opacity="0.97"/><ellipse cx="211.7" cy="414" rx="2.34" ry="2.59" opacity="0.74"/><ellipse cx="217.5" cy="414" rx="2.43" ry="2.82" opacity="0.94"/><ellipse cx="221.37" cy="412.07" rx="2.09" ry="2.61" opacity="0.79"/><ellipse cx="270.67" cy="367.6" rx="1.8" ry="1.75" opacity="0.63"/><ellipse cx="276.47" cy="363.73" rx="1.88" ry="1.89" opacity="0.8"/><ellipse cx="274.53" cy="375.33" rx="2.33" ry="2.34" opacity="0.77"/><ellipse cx="268.73" cy="379.2" rx="2.28" ry="2.07" opacity="0.79"/><ellipse cx="278.4" cy="381.13" rx="2.38" ry="2.18" opacity="0.67"/><ellipse cx="264.87" cy="388.87" rx="2.51" ry="2.56" opacity="0.75"/><ellipse cx="272.6" cy="390.8" rx="2.03" ry="2.34" opacity="0.84"/><ellipse cx="279.37" cy="392.73" rx="1.9" ry="1.7" opacity="0.68"/><ellipse cx="261" cy="396.6" rx="2.4" ry="1.87" opacity="0.78"/><ellipse cx="268.73" cy="400.47" rx="1.88" ry="1.95" opacity="0.67"/><ellipse cx="276.47" cy="402.4" rx="2.06" ry="1.9" opacity="0.61"/><ellipse cx="251.33" cy="408.2" rx="1.8" ry="1.9" opacity="0.8"/><ellipse cx="259.07" cy="410.13" rx="1.75" ry="1.73" opacity="0.78"/><ellipse cx="266.8" cy="410.13" rx="2.07" ry="2.54" opacity="0.62"/><ellipse cx="274.53" cy="412.07" rx="2.06" ry="2.18" opacity="0.61"/><ellipse cx="245.53" cy="412.07" rx="2.57" ry="1.96" opacity="0.64"/><ellipse cx="262.93" cy="392.73" rx="2.13" ry="1.9" opacity="0.85"/><ellipse cx="279.37" cy="375.33" rx="2.01" ry="1.85" opacity="0.62"/><ellipse cx="271.63" cy="384.03" rx="2.35" ry="2.03" opacity="0.92"/><ellipse cx="265.83" cy="404.33" rx="2.12" ry="2.82" opacity="0.72"/><ellipse cx="278.4" cy="408.2" rx="1.92" ry="2.02" opacity="0.93"/><ellipse cx="255.2" cy="403.37" rx="2.27" ry="2.11" opacity="0.64"/></g><g filter="url(#hb2)" fill="#b3a6d6"><ellipse cx="113.1" cy="305.73" rx="2.6" ry="3"/><ellipse cx="127.6" cy="307.67" rx="2.6" ry="3"/><ellipse cx="152.73" cy="312.5" rx="2.6" ry="3"/><ellipse cx="111.17" cy="303.8" rx="2.6" ry="3"/><ellipse cx="125.67" cy="304.77" rx="2.6" ry="3"/><ellipse cx="149.83" cy="373.4" rx="2.6" ry="3"/><ellipse cx="161.43" cy="382.1" rx="2.2" ry="1.6" fill="#222" transform="rotate(35 161.43 382.1)"/></g>
</g>
<line x1="191.4" y1="404.9" x2="276.1" y2="404.9" stroke="#111" stroke-width="2.2"/>
<text x="14" y="405.3" font-size="34.5" font-style="italic">EP4<tspan dy="-10.6" dx="1.8" font-size="23">Col2</tspan></text>
<rect x="371.75" y="65.55" width="48.7" height="12.9" fill="none" stroke="#141414" stroke-width="3.5"/>
<rect x="371.75" y="107.15" width="48.7" height="13.3" fill="none" stroke="#b5281e" stroke-width="3.5"/>
<text x="439.5" y="85.6" font-size="34.5" font-style="italic">EP4<tspan dy="-10.5" dx="0" font-size="22.5" font-style="normal">f/f</tspan></text>
<text x="439.5" y="127" font-size="34.5" font-style="italic">EP4<tspan dy="-10.5" dx="0" font-size="22.5">Col2</tspan></text>
<line x1="448.5" y1="177.7" x2="448.5" y2="410.3" stroke="#141414" stroke-width="3.6"/>
<line x1="437.2" y1="408.5" x2="448.5" y2="408.5" stroke="#141414" stroke-width="3.6"/>
<text x="433.8" y="420.9" font-size="38" text-anchor="end">0</text>
<line x1="437.2" y1="362.7" x2="448.5" y2="362.7" stroke="#141414" stroke-width="3.6"/>
<text x="433.8" y="375.1" font-size="38" text-anchor="end">20</text>
<line x1="437.2" y1="316.9" x2="448.5" y2="316.9" stroke="#141414" stroke-width="3.6"/>
<text x="433.8" y="329.3" font-size="38" text-anchor="end">40</text>
<line x1="437.2" y1="271.1" x2="448.5" y2="271.1" stroke="#141414" stroke-width="3.6"/>
<text x="433.8" y="283.5" font-size="38" text-anchor="end">60</text>
<line x1="437.2" y1="225.3" x2="448.5" y2="225.3" stroke="#141414" stroke-width="3.6"/>
<text x="433.8" y="237.7" font-size="38" text-anchor="end">80</text>
<line x1="437.2" y1="179.5" x2="448.5" y2="179.5" stroke="#141414" stroke-width="3.6"/>
<text x="433.8" y="191.9" font-size="38" text-anchor="end">100</text>
<line x1="437.2" y1="408.5" x2="567.8" y2="408.5" stroke="#141414" stroke-width="3.6"/>
<line x1="481.8" y1="408.5" x2="481.8" y2="419.6" stroke="#141414" stroke-width="3.6"/>
<line x1="532" y1="408.5" x2="532" y2="419.6" stroke="#141414" stroke-width="3.6"/>
<path d="M464.8 408.5 V257.4 H498.1 V408.5" fill="#fff" stroke="#141414" stroke-width="3.6"/>
<path d="M514.8 408.5 V250.6 H548.4 V408.5" fill="#fff" stroke="#ab261c" stroke-width="3.6"/>
<path d="M473.1 251 H490.1 M473.1 260 H490.1 M481.6 251 V260" fill="none" stroke="#141414" stroke-width="3.4"/>
<path d="M523.5 241.2 H540.5 M523.5 259.2 H540.5 M532 241.2 V259.2" fill="none" stroke="#141414" stroke-width="3.4"/>
<g fill="#141414"><circle cx="473.8" cy="248.6" r="5.7"/><circle cx="489.4" cy="249.6" r="5.7"/><circle cx="478.2" cy="258.8" r="5.7"/><circle cx="485.8" cy="261.2" r="5.7"/><circle cx="481.4" cy="266.4" r="5.7"/></g>
<g fill="#141414"><circle cx="515" cy="241.6" r="5.7"/><circle cx="548.4" cy="243.8" r="5.7"/><circle cx="523.4" cy="247.2" r="5.7"/><circle cx="540.2" cy="257" r="5.7"/><circle cx="531.6" cy="263.2" r="5.7"/></g>
<path d="M472.8 210.8 V199 H541.2 V210.8" fill="none" stroke="#141414" stroke-width="3.6"/>
<text x="511.5" y="190" font-size="34.5" text-anchor="middle">ns</text>
<text transform="translate(361 287) rotate(-90)" font-size="34.9" text-anchor="middle">SZ CH (/mm)</text>
<line x1="768.5" y1="175.7" x2="768.5" y2="410.3" stroke="#141414" stroke-width="3.6"/>
<line x1="757" y1="408.5" x2="768.5" y2="408.5" stroke="#141414" stroke-width="3.6"/>
<text x="753.3" y="420.9" font-size="38" text-anchor="end">0</text>
<line x1="757" y1="362.3" x2="768.5" y2="362.3" stroke="#141414" stroke-width="3.6"/>
<text x="753.3" y="374.7" font-size="38" text-anchor="end">1000</text>
<line x1="757" y1="316.1" x2="768.5" y2="316.1" stroke="#141414" stroke-width="3.6"/>
<text x="753.3" y="328.5" font-size="38" text-anchor="end">2000</text>
<line x1="757" y1="269.9" x2="768.5" y2="269.9" stroke="#141414" stroke-width="3.6"/>
<text x="753.3" y="282.3" font-size="38" text-anchor="end">3000</text>
<line x1="757" y1="223.7" x2="768.5" y2="223.7" stroke="#141414" stroke-width="3.6"/>
<text x="753.3" y="236.1" font-size="38" text-anchor="end">4000</text>
<line x1="757" y1="177.5" x2="768.5" y2="177.5" stroke="#141414" stroke-width="3.6"/>
<text x="753.3" y="189.9" font-size="38" text-anchor="end">5000</text>
<line x1="757" y1="408.5" x2="888" y2="408.5" stroke="#141414" stroke-width="3.6"/>
<line x1="802" y1="408.5" x2="802" y2="419.6" stroke="#141414" stroke-width="3.6"/>
<line x1="852.3" y1="408.5" x2="852.3" y2="419.6" stroke="#141414" stroke-width="3.6"/>
<path d="M785.1 408.5 V233.2 H818.4 V408.5" fill="#fff" stroke="#141414" stroke-width="3.6"/>
<path d="M835.2 408.5 V198.6 H869.4 V408.5" fill="#fff" stroke="#ab261c" stroke-width="3.6"/>
<path d="M793.5 210 H810.5 M793.5 255.6 H810.5 M802 210 V255.6" fill="none" stroke="#141414" stroke-width="3.4"/>
<path d="M843.5 184.4 H860.5 M843.5 210 H860.5 M852 184.4 V210" fill="none" stroke="#141414" stroke-width="3.4"/>
<g fill="#141414"><circle cx="810" cy="204.4" r="5.7"/><circle cx="793" cy="218" r="5.7"/><circle cx="793" cy="236" r="5.7"/><circle cx="809.6" cy="242.6" r="5.7"/><circle cx="801.6" cy="263" r="5.7"/></g>
<g fill="#141414"><circle cx="843.6" cy="184.4" r="5.7"/><circle cx="860" cy="185" r="5.7"/><circle cx="843.6" cy="202" r="5.7"/><circle cx="860" cy="208.4" r="5.7"/><circle cx="852" cy="212.4" r="5.7"/></g>
<path d="M794.5 172.4 V160.1 H854.1 V172.4" fill="none" stroke="#141414" stroke-width="3.6"/>
<text x="825.87" y="159.46" font-size="30" text-anchor="middle" letter-spacing="1.73">*</text>
<text transform="translate(651 283) rotate(-90)" font-size="34.9" text-anchor="middle">TZ+MZ CH (/mm<tspan dy="-11.5" font-size="22.5">2</tspan><tspan dy="11.5">)</tspan></text>
<line x1="1074.5" y1="177.5" x2="1074.5" y2="410.8" stroke="#141414" stroke-width="3.6"/>
<line x1="1062.6" y1="409" x2="1074.5" y2="409" stroke="#141414" stroke-width="3.6"/>
<text x="1059.5" y="421.4" font-size="38" text-anchor="end">0</text>
<line x1="1062.6" y1="363.05" x2="1074.5" y2="363.05" stroke="#141414" stroke-width="3.6"/>
<text x="1059.5" y="375.45" font-size="38" text-anchor="end">500</text>
<line x1="1062.6" y1="317.1" x2="1074.5" y2="317.1" stroke="#141414" stroke-width="3.6"/>
<text x="1059.5" y="329.5" font-size="38" text-anchor="end">1000</text>
<line x1="1062.6" y1="271.15" x2="1074.5" y2="271.15" stroke="#141414" stroke-width="3.6"/>
<text x="1059.5" y="283.55" font-size="38" text-anchor="end">1500</text>
<line x1="1062.6" y1="225.2" x2="1074.5" y2="225.2" stroke="#141414" stroke-width="3.6"/>
<text x="1059.5" y="237.6" font-size="38" text-anchor="end">2000</text>
<line x1="1062.6" y1="179.25" x2="1074.5" y2="179.25" stroke="#141414" stroke-width="3.6"/>
<text x="1059.5" y="191.65" font-size="38" text-anchor="end">2500</text>
<line x1="1062.6" y1="409" x2="1192" y2="409" stroke="#141414" stroke-width="3.6"/>
<line x1="1107" y1="409" x2="1107" y2="420" stroke="#141414" stroke-width="3.6"/>
<line x1="1157" y1="409" x2="1157" y2="420" stroke="#141414" stroke-width="3.6"/>
<path d="M1090.1 409 V256 H1122.9 V409" fill="#fff" stroke="#141414" stroke-width="3.6"/>
<path d="M1140.1 409 V202 H1173.5 V409" fill="#fff" stroke="#ab261c" stroke-width="3.6"/>
<path d="M1098.5 235 H1115.5 M1098.5 277.5 H1115.5 M1107 235 V277.5" fill="none" stroke="#141414" stroke-width="3.4"/>
<path d="M1149.1 190 H1166.1 M1149.1 215 H1166.1 M1157.6 190 V215" fill="none" stroke="#141414" stroke-width="3.4"/>
<g fill="#141414"><circle cx="1114" cy="234" r="5.7"/><circle cx="1098.6" cy="243" r="5.7"/><circle cx="1106" cy="250" r="5.7"/><circle cx="1098.6" cy="277.4" r="5.7"/><circle cx="1115" cy="277.4" r="5.7"/></g>
<g fill="#141414"><circle cx="1164.4" cy="189" r="5.7"/><circle cx="1148.6" cy="194" r="5.7"/><circle cx="1157" cy="200" r="5.7"/><circle cx="1164.4" cy="205" r="5.7"/><circle cx="1148.6" cy="221.6" r="5.7"/></g>
<path d="M1102.5 174.4 V162.5 H1158.5 V174.4" fill="none" stroke="#141414" stroke-width="3.6"/>
<text x="1130.77" y="163.46" font-size="30" text-anchor="middle" letter-spacing="1.53">***</text>
<text transform="translate(960 284) rotate(-90)" font-size="34.9" text-anchor="middle" word-spacing="3">CZ CH (/mm<tspan dy="-11.5" font-size="22.5">2</tspan><tspan dy="11.5">)</tspan></text>
<line x1="1379.5" y1="176.2" x2="1379.5" y2="410.3" stroke="#141414" stroke-width="3.6"/>
<line x1="1368.2" y1="408.5" x2="1379.5" y2="408.5" stroke="#141414" stroke-width="3.6"/>
<text x="1364" y="420.9" font-size="38" text-anchor="end">0</text>
<line x1="1368.2" y1="362.4" x2="1379.5" y2="362.4" stroke="#141414" stroke-width="3.6"/>
<text x="1364" y="374.8" font-size="38" text-anchor="end">1000</text>
<line x1="1368.2" y1="316.3" x2="1379.5" y2="316.3" stroke="#141414" stroke-width="3.6"/>
<text x="1364" y="328.7" font-size="38" text-anchor="end">2000</text>
<line x1="1368.2" y1="270.2" x2="1379.5" y2="270.2" stroke="#141414" stroke-width="3.6"/>
<text x="1364" y="282.6" font-size="38" text-anchor="end">3000</text>
<line x1="1368.2" y1="224.1" x2="1379.5" y2="224.1" stroke="#141414" stroke-width="3.6"/>
<text x="1364" y="236.5" font-size="38" text-anchor="end">4000</text>
<line x1="1368.2" y1="178" x2="1379.5" y2="178" stroke="#141414" stroke-width="3.6"/>
<text x="1364" y="190.4" font-size="38" text-anchor="end">5000</text>
<line x1="1368.2" y1="408.5" x2="1500" y2="408.5" stroke="#141414" stroke-width="3.6"/>
<line x1="1412.4" y1="408.5" x2="1412.4" y2="419.6" stroke="#141414" stroke-width="3.6"/>
<line x1="1463.6" y1="408.5" x2="1463.6" y2="419.6" stroke="#141414" stroke-width="3.6"/>
<path d="M1396.5 408.5 V270.6 H1429.5 V408.5" fill="#fff" stroke="#141414" stroke-width="3.6"/>
<path d="M1446.5 408.5 V226 H1480.5 V408.5" fill="#fff" stroke="#ab261c" stroke-width="3.6"/>
<path d="M1403.9 261 H1420.9 M1403.9 280 H1420.9 M1412.4 261 V280" fill="none" stroke="#141414" stroke-width="3.4"/>
<path d="M1454.5 222 H1471.5 M1454.5 232 H1471.5 M1463 222 V232" fill="none" stroke="#141414" stroke-width="3.4"/>
<g fill="#141414"><circle cx="1412.4" cy="255.6" r="5.7"/><circle cx="1404" cy="272" r="5.7"/><circle cx="1421" cy="269" r="5.7"/><circle cx="1416" cy="276" r="5.7"/><circle cx="1408.4" cy="283" r="5.7"/></g>
<g fill="#141414"><circle cx="1455" cy="221" r="5.7"/><circle cx="1471" cy="221.6" r="5.7"/><circle cx="1462" cy="226" r="5.7"/><circle cx="1467" cy="233" r="5.7"/><circle cx="1462" cy="236" r="5.7"/></g>
<path d="M1409.5 204 V191.5 H1464.5 V204" fill="none" stroke="#141414" stroke-width="3.6"/>
<text x="1437.37" y="191.46" font-size="30" text-anchor="middle" letter-spacing="1.73">****</text>
<text transform="translate(1262.2 287.8) rotate(-90)" font-size="34.9" text-anchor="middle" word-spacing="3.3">Total CH (/mm<tspan dy="-11.5" font-size="22.5">2</tspan><tspan dy="11.5">)</tspan></text>
<text x="350.3" y="619.2" font-size="34" text-anchor="middle">3 days</text>
<text x="520.5" y="619.2" font-size="34" text-anchor="middle">7 days</text>
<text x="690" y="619.2" font-size="34" text-anchor="middle">14 days</text>
<text x="160.8" y="752.5" font-size="34" font-style="italic">EP4<tspan dy="-10.5" dx="0" font-size="22">f/f</tspan></text>
<text x="144.2" y="933.4" font-size="34" font-style="italic">EP4<tspan dy="-10.5" dx="1.5" font-size="22.5">Col2</tspan></text>
<circle cx="345.9" cy="746.8" r="80.6" fill="url(#dbg0)" filter="url(#dedge)"/>
<g clip-path="url(#dcl0)">
<g filter="url(#mott)">
<ellipse cx="348.6" cy="743.8" rx="40" ry="38" fill="url(#dhalo0)"/>
<ellipse cx="348.6" cy="743.8" rx="8" ry="8" fill="url(#dcore0)"/>
</g></g>
<circle cx="521.7" cy="746.8" r="80.8" fill="url(#dbg1)" filter="url(#dedge)"/>
<g clip-path="url(#dcl1)">
<rect x="440.9" y="666" width="161.6" height="161.6" filter="url(#speck)" opacity="0.35"/>
<g filter="url(#mott)">
<ellipse cx="517.8" cy="747.4" rx="50" ry="46" fill="url(#dhalo1)"/>
<ellipse cx="517.8" cy="747.4" rx="38" ry="36" fill="url(#dcore1)"/>
</g></g>
<circle cx="693.9" cy="746.8" r="80.9" fill="url(#dbg2)" filter="url(#dedge)"/>
<g clip-path="url(#dcl2)">
<rect x="613" y="665.9" width="161.8" height="161.8" filter="url(#speck)" opacity="0.6"/>
<g filter="url(#mott)">
<ellipse cx="692.8" cy="743.2" rx="82" ry="76" fill="url(#dhalo2)"/>
<ellipse cx="692.8" cy="743.2" rx="43" ry="41" fill="url(#dcore2)"/>
</g></g>
<circle cx="346.2" cy="918.5" r="80.2" fill="url(#dbg3)" filter="url(#dedge)"/>
<g clip-path="url(#dcl3)">
<rect x="266" y="838.3" width="160.4" height="160.4" filter="url(#speck)" opacity="0.15"/>
<g filter="url(#mott)">
<ellipse cx="354.6" cy="920.4" rx="36" ry="35" fill="url(#dhalo3)"/>
<ellipse cx="354.6" cy="920.4" rx="24" ry="24" fill="url(#dcore3)"/>
</g></g>
<circle cx="521.7" cy="918.8" r="80.3" fill="url(#dbg4)" filter="url(#dedge)"/>
<g clip-path="url(#dcl4)">
<rect x="441.4" y="838.5" width="160.6" height="160.6" filter="url(#speck)" opacity="0.5"/>
<g filter="url(#mott)">
<ellipse cx="511.8" cy="918" rx="56" ry="52" fill="url(#dhalo4)"/>
<ellipse cx="511.8" cy="918" rx="40" ry="38" fill="url(#dcore4)"/>
</g></g>
<circle cx="694.2" cy="917.9" r="80.2" fill="url(#dbg5)" filter="url(#dedge)"/>
<g clip-path="url(#dcl5)">
<rect x="614" y="837.7" width="160.4" height="160.4" filter="url(#speck)" opacity="0.6"/>
<g filter="url(#mott)">
<ellipse cx="701.5" cy="909.8" rx="90" ry="72" fill="url(#dhalo5)"/>
<ellipse cx="701.5" cy="909.8" rx="40" ry="36" fill="url(#dcore5)"/>
</g></g>
<rect x="1033.25" y="566.75" width="47.6" height="12.6" fill="none" stroke="#141414" stroke-width="3.9"/>
<rect x="1033.25" y="612.05" width="47.6" height="12.7" fill="none" stroke="#b5281e" stroke-width="3.9"/>
<text x="1100.2" y="589.9" font-size="34.8" font-style="italic">EP4<tspan dy="-10.3" dx="0" font-size="22.5" font-style="normal">f/f</tspan></text>
<text x="1100.2" y="632" font-size="34.8" font-style="italic">EP4<tspan dy="-10.3" dx="0" font-size="22.5">Col2</tspan></text>
<line x1="990.1" y1="627.65" x2="990.1" y2="938.95" stroke="#141414" stroke-width="4.3"/>
<line x1="976" y1="936.8" x2="990.1" y2="936.8" stroke="#141414" stroke-width="4.3"/>
<text x="971.5" y="949.5" font-size="38" text-anchor="end">0</text>
<line x1="976" y1="860.05" x2="990.1" y2="860.05" stroke="#141414" stroke-width="4.3"/>
<text x="971.5" y="872.75" font-size="38" text-anchor="end">2</text>
<line x1="976" y1="783.3" x2="990.1" y2="783.3" stroke="#141414" stroke-width="4.3"/>
<text x="971.5" y="796" font-size="38" text-anchor="end">4</text>
<line x1="976" y1="706.55" x2="990.1" y2="706.55" stroke="#141414" stroke-width="4.3"/>
<text x="971.5" y="719.25" font-size="38" text-anchor="end">6</text>
<line x1="976" y1="629.8" x2="990.1" y2="629.8" stroke="#141414" stroke-width="4.3"/>
<text x="971.5" y="642.5" font-size="38" text-anchor="end">8</text>
<line x1="976" y1="936.8" x2="1388" y2="936.8" stroke="#141414" stroke-width="4.3"/>
<line x1="1049.3" y1="936.8" x2="1049.3" y2="950.7" stroke="#141414" stroke-width="4.3"/>
<line x1="1185.9" y1="936.8" x2="1185.9" y2="950.7" stroke="#141414" stroke-width="4.3"/>
<line x1="1323.2" y1="936.8" x2="1323.2" y2="950.7" stroke="#141414" stroke-width="4.3"/>
<path d="M1006.65 936.8 V898.45 H1040.95 V936.8" fill="#fff" stroke="#141414" stroke-width="2.3"/>
<path d="M1058.25 936.8 V878.05 H1092.75 V936.8" fill="#fff" stroke="#ab261c" stroke-width="2.3"/>
<path d="M1144.45 936.8 V861.25 H1178.25 V936.8" fill="#fff" stroke="#141414" stroke-width="2.3"/>
<path d="M1194.95 936.8 V793.65 H1229.35 V936.8" fill="#fff" stroke="#ab261c" stroke-width="2.3"/>
<path d="M1281.15 936.8 V794.15 H1315.05 V936.8" fill="#fff" stroke="#141414" stroke-width="2.3"/>
<path d="M1332.65 936.8 V723.85 H1366.55 V936.8" fill="#fff" stroke="#ab261c" stroke-width="2.3"/>
<line x1="976" y1="936.8" x2="1388" y2="936.8" stroke="#141414" stroke-width="4.3"/>
<path d="M1015.4 887.8 H1032.4 M1015.4 909.7 H1032.4 M1023.9 887.8 V909.7" fill="none" stroke="#141414" stroke-width="4.2"/>
<path d="M1068 871 H1083 M1068 883 H1083 M1075.5 871 V883" fill="none" stroke="#ab261c" stroke-width="4.2"/>
<path d="M1153.9 857 H1168.9 M1153.9 864 H1168.9 M1161.4 857 V864" fill="none" stroke="#141414" stroke-width="4.2"/>
<path d="M1204.3 771 H1220.3 M1204.3 814.5 H1220.3 M1212.3 771 V814.5" fill="none" stroke="#ab261c" stroke-width="4.2"/>
<path d="M1293.7 781 H1302.7 M1293.7 803 H1302.7 M1298.2 781 V803" fill="none" stroke="#141414" stroke-width="4.2"/>
<path d="M1341.1 691.3 H1358.1 M1341.1 754.4 H1358.1 M1349.6 691.3 V754.4" fill="none" stroke="#ab261c" stroke-width="4.2"/>
<g fill="#141414"><circle cx="1023.9" cy="875.9" r="7.7"/><circle cx="1017.6" cy="902.7" r="7.7"/><circle cx="1024" cy="903.2" r="7.7"/><circle cx="1030.2" cy="902.7" r="7.7"/><circle cx="1021" cy="902.9" r="7.7"/><circle cx="1027" cy="902.9" r="7.7"/></g>
<g fill="#141414"><circle cx="1065.5" cy="874.9" r="7.7"/><circle cx="1085.5" cy="872.6" r="7.7"/><circle cx="1070" cy="877.7" r="7.7"/><circle cx="1080.3" cy="877.7" r="7.7"/><circle cx="1072.5" cy="887.1" r="7.7"/><circle cx="1078.5" cy="885.2" r="7.7"/></g>
<g fill="#141414"><circle cx="1150.1" cy="858.7" r="7.7"/><circle cx="1171.8" cy="856.3" r="7.7"/><circle cx="1155.1" cy="861.6" r="7.7"/><circle cx="1165.3" cy="861" r="7.7"/><circle cx="1158.9" cy="866" r="7.7"/><circle cx="1168" cy="858.5" r="7.7"/></g>
<g fill="#141414"><circle cx="1202" cy="779.3" r="7.7"/><circle cx="1211.7" cy="779.9" r="7.7"/><circle cx="1222.5" cy="779.3" r="7.7"/><circle cx="1217" cy="779.5" r="7.7"/><circle cx="1212.3" cy="806.3" r="7.7"/><circle cx="1212.3" cy="831.2" r="7.7"/></g>
<g fill="#141414"><circle cx="1289.1" cy="773.1" r="7.7"/><circle cx="1301.7" cy="784.3" r="7.7"/><circle cx="1308.5" cy="788.7" r="7.7"/><circle cx="1286.5" cy="793" r="7.7"/><circle cx="1301.7" cy="798.9" r="7.7"/><circle cx="1292.9" cy="810.7" r="7.7"/></g>
<g fill="#141414"><circle cx="1338.4" cy="698.6" r="7.7"/><circle cx="1347.2" cy="703.6" r="7.7"/><circle cx="1359.5" cy="703.6" r="7.7"/><circle cx="1353" cy="703.6" r="7.7"/><circle cx="1341.3" cy="763.7" r="7.7"/><circle cx="1358" cy="763.7" r="7.7"/></g>
<path d="M1026.65 847.8 V828.55 H1077.25 V847.8" fill="none" stroke="#141414" stroke-width="4.3"/>
<path d="M1162.15 760.2 V740.35 H1213.65 V760.2" fill="none" stroke="#141414" stroke-width="4.3"/>
<path d="M1297.45 683 V664.15 H1348.85 V683" fill="none" stroke="#141414" stroke-width="4.3"/>
<text x="1054.16" y="828.16" font-size="30" text-anchor="middle" letter-spacing="2.33">**</text>
<text x="1188.16" y="737.96" font-size="30" text-anchor="middle" letter-spacing="2.33">****</text>
<text x="1324.66" y="662.66" font-size="30" text-anchor="middle" letter-spacing="2.33">***</text>
<text x="1073" y="997.2" font-size="33.5" text-anchor="middle">3</text>
<text x="1208.8" y="997.2" font-size="33.5" text-anchor="middle">7</text>
<text x="1343.5" y="997.2" font-size="33.5" text-anchor="middle">14</text>
<text x="1417" y="997.2" font-size="33.5" text-anchor="middle">(day)</text>
<text transform="translate(906 753.5) rotate(-90)" font-size="33.5" text-anchor="middle">A620</text>
<rect x="233.65" y="1190.85" width="47.9" height="12.4" fill="none" stroke="#141414" stroke-width="3.9"/>
<rect x="233.65" y="1235.95" width="47.9" height="12.4" fill="none" stroke="#b5281e" stroke-width="3.9"/>
<text x="300.8" y="1214.3" font-size="34.5" font-style="italic">EP4<tspan dy="-10.5" dx="0" font-size="22.5">f/f</tspan></text>
<text x="300.8" y="1255.6" font-size="34.5" font-style="italic">EP4<tspan dy="-10.5" dx="0" font-size="22.5">Col2</tspan></text>
<line x1="332.4" y1="1306" x2="332.4" y2="1555.2" stroke="#141414" stroke-width="4"/>
<line x1="320.4" y1="1553.2" x2="332.4" y2="1553.2" stroke="#141414" stroke-width="4"/>
<text x="316.6" y="1564.8" font-size="36.5" text-anchor="end">0</text>
<line x1="320.4" y1="1471.5" x2="332.4" y2="1471.5" stroke="#141414" stroke-width="4"/>
<text x="316.6" y="1483.1" font-size="36.5" text-anchor="end">1</text>
<line x1="320.4" y1="1389.8" x2="332.4" y2="1389.8" stroke="#141414" stroke-width="4"/>
<text x="316.6" y="1401.4" font-size="36.5" text-anchor="end">2</text>
<line x1="320.4" y1="1308.1" x2="332.4" y2="1308.1" stroke="#141414" stroke-width="4"/>
<text x="316.6" y="1319.7" font-size="36.5" text-anchor="end">3</text>
<line x1="320.4" y1="1553.2" x2="465.4" y2="1553.2" stroke="#141414" stroke-width="4"/>
<line x1="370" y1="1553.2" x2="370" y2="1564.8" stroke="#141414" stroke-width="4"/>
<line x1="425.8" y1="1553.2" x2="425.8" y2="1564.8" stroke="#141414" stroke-width="4"/>
<path d="M351.2 1553.2 V1475.1 H388.8 V1553.2" fill="#fff" stroke="#141414" stroke-width="4"/>
<path d="M406.8 1553.2 V1410.1 H445.4 V1553.2" fill="#fff" stroke="#ab261c" stroke-width="4"/>
<path d="M361 1460.9 H379 M361 1490.4 H379 M370 1460.9 V1490.4" fill="none" stroke="#141414" stroke-width="3.6"/>
<path d="M416.8 1389.6 H434.8 M416.8 1431.1 H434.8 M425.8 1389.6 V1431.1" fill="none" stroke="#141414" stroke-width="3.6"/>
<g fill="#141414"><circle cx="370" cy="1458" r="6.2"/><circle cx="360.8" cy="1483.2" r="6.2"/><circle cx="378.8" cy="1482" r="6.2"/></g>
<g fill="#141414"><circle cx="425.8" cy="1387.2" r="6.2"/><circle cx="416" cy="1421.5" r="6.2"/><circle cx="435.2" cy="1420.8" r="6.2"/></g>
<path d="M368.6 1376 V1359 H426.9 V1376" fill="none" stroke="#141414" stroke-width="4"/>
<text x="400.06" y="1356.26" font-size="30" text-anchor="middle" letter-spacing="1.73">*</text>
<text transform="translate(232.4 1423.5) rotate(-90)" font-size="35.2" text-anchor="middle">Relative <tspan font-style="italic">Col2a1</tspan></text>
<text transform="translate(275.6 1421.4) rotate(-90)" font-size="35.2" text-anchor="middle">mRNA level</text>
<g stroke-linecap="round">
<rect x="644.75" y="1185.05" width="47.7" height="12.7" fill="none" stroke="#141414" stroke-width="3.9"/>
<rect x="644.75" y="1230.45" width="47.7" height="12.4" fill="none" stroke="#b5281e" stroke-width="3.9"/>
<text x="712.4" y="1208.3" font-size="34.5" font-style="italic">EP4<tspan dy="-10.5" dx="0" font-size="22.5">f/f</tspan></text>
<text x="712.4" y="1250.3" font-size="34.5" font-style="italic">EP4<tspan dy="-10.5" dx="0" font-size="22.5">Col2</tspan></text>
<line x1="746.2" y1="1295" x2="746.2" y2="1548.4" stroke="#141414" stroke-width="4.4"/>
<line x1="734" y1="1546.2" x2="746.2" y2="1546.2" stroke="#141414" stroke-width="4.4"/>
<text x="730.5" y="1558" font-size="36.5" text-anchor="end">0.0</text>
<line x1="734" y1="1483.95" x2="746.2" y2="1483.95" stroke="#141414" stroke-width="4.4"/>
<text x="730.5" y="1495.75" font-size="36.5" text-anchor="end">0.5</text>
<line x1="734" y1="1421.7" x2="746.2" y2="1421.7" stroke="#141414" stroke-width="4.4"/>
<text x="730.5" y="1433.5" font-size="36.5" text-anchor="end">1.0</text>
<line x1="734" y1="1359.45" x2="746.2" y2="1359.45" stroke="#141414" stroke-width="4.4"/>
<text x="730.5" y="1371.25" font-size="36.5" text-anchor="end">1.5</text>
<line x1="734" y1="1297.2" x2="746.2" y2="1297.2" stroke="#141414" stroke-width="4.4"/>
<text x="730.5" y="1309" font-size="36.5" text-anchor="end">2.0</text>
<line x1="734" y1="1546.2" x2="872.5" y2="1546.2" stroke="#141414" stroke-width="4.4"/>
<line x1="781.4" y1="1546.2" x2="781.4" y2="1558.6" stroke="#141414" stroke-width="4.4"/>
<line x1="834.8" y1="1546.2" x2="834.8" y2="1558.6" stroke="#141414" stroke-width="4.4"/>
<line x1="732.8" y1="1546.2" x2="873.2" y2="1546.2" stroke="#141414" stroke-width="4.4"/>
<path d="M763.8 1546.2 V1421.6 H798.8 V1546.2" fill="#fff" stroke="#000" stroke-width="4.4"/>
<path d="M816.9 1546.2 V1367.1 H852 V1546.2" fill="#fff" stroke="#ab261c" stroke-width="4.4"/>
<line x1="732.8" y1="1546.2" x2="873.2" y2="1546.2" stroke="#141414" stroke-width="4.4"/>
<path d="M772.05 1409.3 H790.55 M772.05 1433.5 H790.55 M781.3 1409.3 V1433.5" fill="none" stroke="#141414" stroke-width="3.6"/>
<path d="M825.55 1360.3 H844.05 M825.55 1372.8 H844.05 M834.8 1360.3 V1372.8" fill="none" stroke="#141414" stroke-width="3.6"/>
<g fill="#141414"><circle cx="781.3" cy="1408.8" r="6.1"/><circle cx="772.4" cy="1432.1" r="6.1"/><circle cx="790.4" cy="1423.2" r="6.1"/></g>
<g fill="#141414"><circle cx="825.7" cy="1360.8" r="6.1"/><circle cx="833.6" cy="1371.6" r="6.1"/><circle cx="842.7" cy="1369.2" r="6.1"/></g>
<path d="M780.4 1349 V1331 H835.8 V1349" fill="none" stroke="#141414" stroke-width="4.4"/>
<text x="810.66" y="1330.76" font-size="30" text-anchor="middle" letter-spacing="3.33">**</text>
<text transform="translate(622.4 1419) rotate(-90)" font-size="35.2" text-anchor="middle">Relative <tspan font-style="italic">Acan</tspan></text>
<text transform="translate(665.6 1421.7) rotate(-90)" font-size="35.2" text-anchor="middle">mRNA level</text>
</g>
<rect x="1051.95" y="1181.95" width="47.7" height="12.2" fill="none" stroke="#141414" stroke-width="3.9"/>
<rect x="1051.95" y="1227.05" width="47.7" height="12.2" fill="none" stroke="#b5281e" stroke-width="3.9"/>
<text x="1119.6" y="1204.7" font-size="34.5" font-style="italic">EP4<tspan dy="-10.5" dx="0" font-size="22.5">f/f</tspan></text>
<text x="1119.6" y="1246.7" font-size="34.5" font-style="italic">EP4<tspan dy="-10.5" dx="0" font-size="22.5">Col2</tspan></text>
<line x1="1153.3" y1="1301.1" x2="1153.3" y2="1555" stroke="#141414" stroke-width="4.2"/>
<line x1="1141.2" y1="1552.9" x2="1153.3" y2="1552.9" stroke="#141414" stroke-width="4.2"/>
<text x="1137.4" y="1564.4" font-size="36.5" text-anchor="end">0.0</text>
<line x1="1141.2" y1="1490.5" x2="1153.3" y2="1490.5" stroke="#141414" stroke-width="4.2"/>
<text x="1137.4" y="1502" font-size="36.5" text-anchor="end">0.5</text>
<line x1="1141.2" y1="1428.1" x2="1153.3" y2="1428.1" stroke="#141414" stroke-width="4.2"/>
<text x="1137.4" y="1439.6" font-size="36.5" text-anchor="end">1.0</text>
<line x1="1141.2" y1="1365.7" x2="1153.3" y2="1365.7" stroke="#141414" stroke-width="4.2"/>
<text x="1137.4" y="1377.2" font-size="36.5" text-anchor="end">1.5</text>
<line x1="1141.2" y1="1303.3" x2="1153.3" y2="1303.3" stroke="#141414" stroke-width="4.2"/>
<text x="1137.4" y="1314.8" font-size="36.5" text-anchor="end">2.0</text>
<line x1="1141.2" y1="1552.9" x2="1279.4" y2="1552.9" stroke="#141414" stroke-width="4.2"/>
<line x1="1188.4" y1="1552.9" x2="1188.4" y2="1564.4" stroke="#141414" stroke-width="4.2"/>
<line x1="1241.5" y1="1552.9" x2="1241.5" y2="1564.4" stroke="#141414" stroke-width="4.2"/>
<path d="M1170.7 1552.9 V1427.7 H1206 V1552.9" fill="#fff" stroke="#141414" stroke-width="4.2"/>
<path d="M1223.7 1552.9 V1338.9 H1259.3 V1552.9" fill="#fff" stroke="#ab261c" stroke-width="4.2"/>
<line x1="1141.2" y1="1552.9" x2="1279.2" y2="1552.9" stroke="#141414" stroke-width="4.2"/>
<path d="M1179.45 1416.7 H1196.95 M1179.45 1440 H1196.95 M1188.2 1416.7 V1440" fill="none" stroke="#141414" stroke-width="3.6"/>
<path d="M1232.65 1318.3 H1250.15 M1232.65 1358.9 H1250.15 M1241.4 1318.3 V1358.9" fill="none" stroke="#141414" stroke-width="3.6"/>
<g fill="#141414"><circle cx="1188.2" cy="1415.3" r="6.1"/><circle cx="1179.6" cy="1435.2" r="6.1"/><circle cx="1196.6" cy="1435.2" r="6.1"/><circle cx="1188.2" cy="1436" r="6.1"/></g>
<g fill="#141414"><circle cx="1232.4" cy="1320.7" r="6.1"/><circle cx="1249.9" cy="1336.8" r="6.1"/><circle cx="1241.3" cy="1359.6" r="6.1"/></g>
<path d="M1185.8 1290.8 V1274.3 H1240.6 V1290.8" fill="none" stroke="#141414" stroke-width="4.2"/>
<text x="1213.37" y="1272.96" font-size="30" text-anchor="middle" letter-spacing="1.73">*</text>
<text transform="translate(1019.3 1438.8) rotate(-90)" font-size="35.2" text-anchor="middle">Relative <tspan font-style="italic">Sox9</tspan></text>
<text transform="translate(1061.5 1439.4) rotate(-90)" font-size="35.2" text-anchor="middle">mRNA level</text>
<rect x="370.75" y="1708.65" width="47.6" height="12.7" fill="none" stroke="#141414" stroke-width="3.9"/>
<rect x="370.75" y="1750.45" width="47.6" height="12.7" fill="none" stroke="#a3271e" stroke-width="3.9"/>
<rect x="370.75" y="1790.35" width="47.6" height="12.7" fill="none" stroke="#a9aaae" stroke-width="3.9"/>
<rect x="370.75" y="1833.95" width="47.6" height="12.7" fill="none" stroke="#e9621b" stroke-width="3.9"/>
<text x="439.3" y="1727" font-size="34.5" font-style="italic">EP4<tspan dy="-10.5" dx="0" font-size="22.5">f/f</tspan></text>
<text x="439.3" y="1768.1" font-size="34.5" font-style="italic">EP4<tspan dy="-10.5" dx="0" font-size="22.5">Col2</tspan></text>
<text x="433.8" y="1810.4" font-size="34.5" font-style="italic">EP4<tspan dy="-10.5" dx="0" font-size="22.5">f/f</tspan><tspan dy="10.5" dx="6.5" font-size="34.5" font-style="normal">+IL-1β</tspan></text>
<text x="433.8" y="1852.4" font-size="34.5" font-style="italic">EP4<tspan dy="-10.5" dx="0" font-size="22.5">Col2</tspan><tspan dy="10.5" dx="8.5" font-size="34.5" font-style="normal">+IL-1β</tspan></text>
<line x1="485.5" y1="1897.3" x2="485.5" y2="2148.3" stroke="#141414" stroke-width="4.2"/>
<line x1="473.4" y1="2146.2" x2="485.5" y2="2146.2" stroke="#141414" stroke-width="4.2"/>
<text x="469.3" y="2158.1" font-size="36.5" text-anchor="end">0.0</text>
<line x1="473.4" y1="2096.85" x2="485.5" y2="2096.85" stroke="#141414" stroke-width="4.2"/>
<text x="469.3" y="2108.75" font-size="36.5" text-anchor="end">0.5</text>
<line x1="473.4" y1="2047.5" x2="485.5" y2="2047.5" stroke="#141414" stroke-width="4.2"/>
<text x="469.3" y="2059.4" font-size="36.5" text-anchor="end">1.0</text>
<line x1="473.4" y1="1998.15" x2="485.5" y2="1998.15" stroke="#141414" stroke-width="4.2"/>
<text x="469.3" y="2010.05" font-size="36.5" text-anchor="end">1.5</text>
<line x1="473.4" y1="1948.8" x2="485.5" y2="1948.8" stroke="#141414" stroke-width="4.2"/>
<text x="469.3" y="1960.7" font-size="36.5" text-anchor="end">2.0</text>
<line x1="473.4" y1="1899.45" x2="485.5" y2="1899.45" stroke="#141414" stroke-width="4.2"/>
<text x="469.3" y="1911.35" font-size="36.5" text-anchor="end">2.5</text>
<line x1="473.4" y1="2146.2" x2="711.7" y2="2146.2" stroke="#141414" stroke-width="4.2"/>
<line x1="519.8" y1="2146.2" x2="519.8" y2="2160" stroke="#141414" stroke-width="4.2"/>
<line x1="570.9" y1="2146.2" x2="570.9" y2="2160" stroke="#141414" stroke-width="4.2"/>
<line x1="622.3" y1="2146.2" x2="622.3" y2="2160" stroke="#141414" stroke-width="4.2"/>
<line x1="674.5" y1="2146.2" x2="674.5" y2="2160" stroke="#141414" stroke-width="4.2"/>
<path d="M502.9 2146.2 V2066.7 H537.3 V2146.2" fill="#fff" stroke="#141414" stroke-width="4.2"/>
<path d="M553.9 2146.2 V2003.2 H588.2 V2146.2" fill="#fff" stroke="#a3271e" stroke-width="4.2"/>
<path d="M605.1 2146.2 V2105.9 H640 V2146.2" fill="#fff" stroke="#a9aaae" stroke-width="4.2"/>
<path d="M656.6 2146.2 V2009.4 H691.4 V2146.2" fill="#fff" stroke="#e9621b" stroke-width="4.2"/>
<line x1="473.3" y1="2146.2" x2="711.5" y2="2146.2" stroke="#141414" stroke-width="4.2"/>
<path d="M511.05 2042.7 H528.55 M511.05 2091.6 H528.55 M519.8 2042.7 V2091.6" fill="none" stroke="#141414" stroke-width="4.2"/>
<path d="M562.15 1953.3 H579.65 M562.15 2052.5 H579.65 M570.9 1953.3 V2052.5" fill="none" stroke="#a3271e" stroke-width="4.2"/>
<path d="M614.05 2089.3 H630.55 M614.05 2122.7 H630.55 M622.3 2089.3 V2122.7" fill="none" stroke="#a9aaae" stroke-width="4.2"/>
<path d="M666.3 1969.3 H682.3 M666.3 2048.8 H682.3 M674.3 1969.3 V2048.8" fill="none" stroke="#e9621b" stroke-width="4.2"/>
<g fill="#141414"><circle cx="510.7" cy="2046.7" r="6.4"/><circle cx="520" cy="2046.7" r="6.4"/><circle cx="529.3" cy="2046.7" r="6.4"/><circle cx="524" cy="2065.3" r="6.4"/><circle cx="528.8" cy="2094.7" r="6.4"/><circle cx="510.7" cy="2101.3" r="6.4"/></g>
<g fill="#141414"><circle cx="561.9" cy="1951.5" r="6.4"/><circle cx="579.5" cy="1951.5" r="6.4"/><circle cx="570.7" cy="1977.3" r="6.4"/><circle cx="570.7" cy="2034.7" r="6.4"/><circle cx="579.5" cy="2043.5" r="6.4"/><circle cx="562.1" cy="2063.2" r="6.4"/></g>
<g fill="#141414"><circle cx="622.1" cy="2075.5" r="6.4"/><circle cx="622.1" cy="2102.1" r="6.4"/><circle cx="612.5" cy="2113.3" r="6.4"/><circle cx="632" cy="2110.7" r="6.4"/><circle cx="626.7" cy="2116" r="6.4"/><circle cx="617.9" cy="2120.8" r="6.4"/></g>
<g fill="#141414"><circle cx="682.7" cy="1956.5" r="6.4"/><circle cx="664.8" cy="1975.2" r="6.4"/><circle cx="674.1" cy="1994.7" r="6.4"/><circle cx="665.3" cy="2036" r="6.4"/><circle cx="682.1" cy="2041.9" r="6.4"/><circle cx="674.1" cy="2054.1" r="6.4"/></g>
<path d="M521.9 1892.2 V1874.7 H616.8 V1892.2" fill="none" stroke="#141414" stroke-width="4.2"/>
<path d="M521.4 1941.5 V1924.6 H572.2 V1941.5" fill="none" stroke="#141414" stroke-width="4.2"/>
<path d="M620.6 1942.2 V1924.6 H673.6 V1942.2" fill="none" stroke="#141414" stroke-width="4.2"/>
<text x="569.47" y="1874.96" font-size="30" text-anchor="middle" letter-spacing="1.73">*</text>
<text x="546.16" y="1924.26" font-size="30" text-anchor="middle" letter-spacing="1.73">*</text>
<text x="649.81" y="1924.26" font-size="30" text-anchor="middle" letter-spacing="4.03">***</text>
<text transform="translate(360 2006.7) rotate(-90)" font-size="35.2" text-anchor="middle">Relative <tspan font-style="italic">Sox9</tspan></text>
<text transform="translate(401.3 2007.3) rotate(-90)" font-size="35.2" text-anchor="middle">mRNA level</text>
<rect x="822.15" y="1707.95" width="47.6" height="12.7" fill="none" stroke="#141414" stroke-width="3.9"/>
<rect x="822.15" y="1749.95" width="47.6" height="12.7" fill="none" stroke="#a3271e" stroke-width="3.9"/>
<rect x="822.15" y="1789.95" width="47.6" height="12.7" fill="none" stroke="#a9aaae" stroke-width="3.9"/>
<rect x="822.15" y="1833.35" width="47.6" height="12.7" fill="none" stroke="#e9621b" stroke-width="3.9"/>
<text x="890.1" y="1726.1" font-size="34.5" font-style="italic">EP4<tspan dy="-10.5" dx="0" font-size="22.5">f/f</tspan></text>
<text x="890.1" y="1767.5" font-size="34.5" font-style="italic">EP4<tspan dy="-10.5" dx="0" font-size="22.5">Col2</tspan></text>
<text x="884.9" y="1809.8" font-size="34.5" font-style="italic">EP4<tspan dy="-10.5" dx="0" font-size="22.5">f/f</tspan><tspan dy="10.5" dx="6.5" font-size="34.5" font-style="normal">+IL-1β</tspan></text>
<text x="884.9" y="1851.8" font-size="34.5" font-style="italic">EP4<tspan dy="-10.5" dx="0" font-size="22.5">Col2</tspan><tspan dy="10.5" dx="9.5" font-size="34.5" font-style="normal">+IL-1β</tspan></text>
<line x1="935.2" y1="1890.4" x2="935.2" y2="2140.2" stroke="#141414" stroke-width="4.2"/>
<line x1="923.4" y1="2138.1" x2="935.2" y2="2138.1" stroke="#141414" stroke-width="4.2"/>
<text x="917.6" y="2150" font-size="36.5" text-anchor="end">0.0</text>
<line x1="923.4" y1="2056.2" x2="935.2" y2="2056.2" stroke="#141414" stroke-width="4.2"/>
<text x="917.6" y="2068.1" font-size="36.5" text-anchor="end">0.5</text>
<line x1="923.4" y1="1974.3" x2="935.2" y2="1974.3" stroke="#141414" stroke-width="4.2"/>
<text x="917.6" y="1986.2" font-size="36.5" text-anchor="end">1.0</text>
<line x1="923.4" y1="1892.4" x2="935.2" y2="1892.4" stroke="#141414" stroke-width="4.2"/>
<text x="917.6" y="1904.3" font-size="36.5" text-anchor="end">1.5</text>
<line x1="923.4" y1="2138.1" x2="1125" y2="2138.1" stroke="#141414" stroke-width="4.2"/>
<line x1="963.2" y1="2138.1" x2="963.2" y2="2151" stroke="#141414" stroke-width="4.2"/>
<line x1="1006.1" y1="2138.1" x2="1006.1" y2="2151" stroke="#141414" stroke-width="4.2"/>
<line x1="1050.1" y1="2138.1" x2="1050.1" y2="2151" stroke="#141414" stroke-width="4.2"/>
<line x1="1092.8" y1="2138.1" x2="1092.8" y2="2151" stroke="#141414" stroke-width="4.2"/>
<path d="M949.1 2138.1 V1980.6 H978.1 V2138.1" fill="#fff" stroke="#141414" stroke-width="4.2"/>
<path d="M992 2138.1 V1972.6 H1021.3 V2138.1" fill="#fff" stroke="#a3271e" stroke-width="4.2"/>
<path d="M1035.2 2138.1 V2032 H1064.2 V2138.1" fill="#fff" stroke="#a9aaae" stroke-width="4.2"/>
<path d="M1078.7 2138.1 V1993.1 H1107.4 V2138.1" fill="#fff" stroke="#e9621b" stroke-width="4.2"/>
<line x1="923.5" y1="2138.1" x2="1124.8" y2="2138.1" stroke="#141414" stroke-width="4.2"/>
<path d="M956.45 1957.3 H969.95 M956.45 2006.1 H969.95 M963.2 1957.3 V2006.1" fill="none" stroke="#141414" stroke-width="4.2"/>
<path d="M998.85 1948.5 H1013.35 M998.85 1997.3 H1013.35 M1006.1 1948.5 V1997.3" fill="none" stroke="#a3271e" stroke-width="4.2"/>
<path d="M1043.1 2014.1 H1057.1 M1043.1 2051.5 H1057.1 M1050.1 2014.1 V2051.5" fill="none" stroke="#a9aaae" stroke-width="4.2"/>
<path d="M1086.05 1963.5 H1100.55 M1086.05 2023.2 H1100.55 M1093.3 1963.5 V2023.2" fill="none" stroke="#e9621b" stroke-width="4.2"/>
<g fill="#141414"><circle cx="967.5" cy="1952" r="6.4"/><circle cx="958.7" cy="1958.1" r="6.4"/><circle cx="963.2" cy="1966.7" r="6.4"/><circle cx="958.7" cy="1997.3" r="6.4"/><circle cx="968" cy="1997.3" r="6.4"/><circle cx="963.2" cy="2015.2" r="6.4"/></g>
<g fill="#141414"><circle cx="1006.1" cy="1934.1" r="6.4"/><circle cx="1006.1" cy="1961.3" r="6.4"/><circle cx="1001.3" cy="1977.3" r="6.4"/><circle cx="1011.2" cy="1975.2" r="6.4"/><circle cx="1006.7" cy="1984" r="6.4"/><circle cx="1006.1" cy="2006.7" r="6.4"/></g>
<g fill="#141414"><circle cx="1050.1" cy="2009.3" r="6.4"/><circle cx="1040" cy="2021.3" r="6.4"/><circle cx="1059.2" cy="2029.3" r="6.4"/><circle cx="1044.8" cy="2036" r="6.4"/><circle cx="1054.7" cy="2036" r="6.4"/><circle cx="1050.1" cy="2065.9" r="6.4"/></g>
<g fill="#141414"><circle cx="1093.3" cy="1957.3" r="6.4"/><circle cx="1098.1" cy="1971.5" r="6.4"/><circle cx="1088" cy="1988" r="6.4"/><circle cx="1094.7" cy="1988" r="6.4"/><circle cx="1100" cy="2024.8" r="6.4"/><circle cx="1085.9" cy="2033.9" r="6.4"/></g>
<path d="M961.9 1913.5 V1896.6 H1052.8 V1938" fill="none" stroke="#141414" stroke-width="4.2"/>
<path d="M1052 1938.1 V1921.1 H1097.3 V1938.1" fill="none" stroke="#141414" stroke-width="4.2"/>
<text x="1009.21" y="1898.96" font-size="30" text-anchor="middle" letter-spacing="2.83">**</text>
<text x="1077.37" y="1924.56" font-size="30" text-anchor="middle" letter-spacing="1.73">*</text>
<text transform="translate(818.7 2000) rotate(-90)" font-size="35.2" text-anchor="middle">Relative <tspan font-style="italic">Acan</tspan></text>
<text transform="translate(860.8 2001.1) rotate(-90)" font-size="35.2" text-anchor="middle">mRNA level</text>
</svg>
</body></html>
